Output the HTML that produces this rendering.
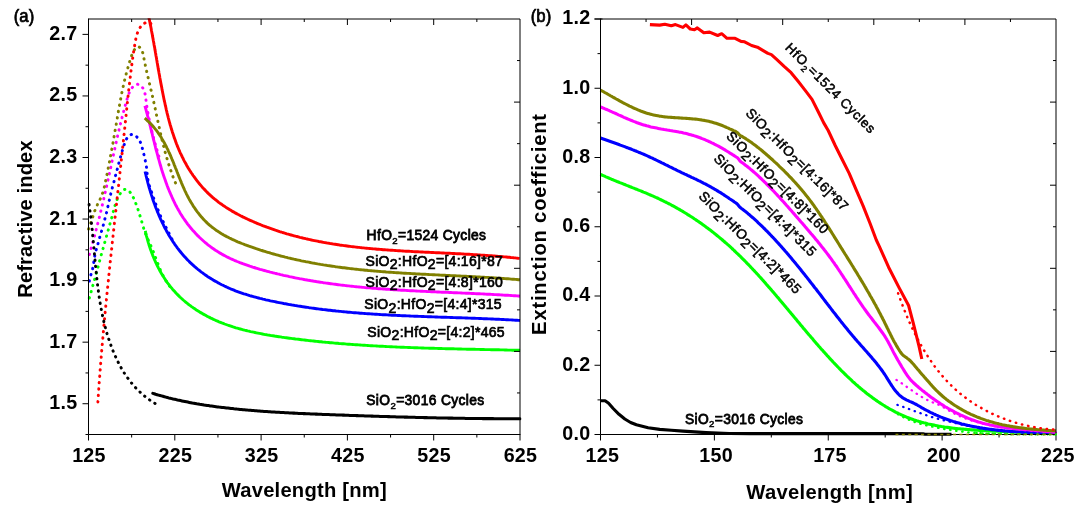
<!DOCTYPE html>
<html lang="en"><head><meta charset="utf-8"><title>Refractive index and extinction coefficient</title>
<style>
html,body{margin:0;padding:0;background:#fff;}
body{width:1084px;height:517px;overflow:hidden;}
svg{display:block;font-family:"Liberation Sans",Arial,Helvetica,sans-serif;}
.tk{font-size:19.7px;font-weight:bold;fill:#000;letter-spacing:0.3px;}
.ttl{font-size:20.2px;font-weight:bold;fill:#000;letter-spacing:0.22px;}
.pl{font-size:18.0px;font-weight:normal;fill:#000;stroke:#000;stroke-width:0.75px;stroke-linejoin:round;letter-spacing:0px;}
.lb{font-size:13.3px;font-weight:normal;fill:#000;stroke:#000;stroke-width:0.4px;letter-spacing:0.8px;}
.c{fill:none;stroke-linejoin:round;stroke-linecap:butt;}
.d{fill:none;stroke-linecap:round;stroke-linejoin:round;}
</style></head><body>
<svg width="1084" height="517" viewBox="0 0 1084 517">
<rect width="1084" height="517" fill="#fff"/>
<defs><clipPath id="ca"><rect x="87.0" y="18.3" width="434.5" height="418.5"/></clipPath><clipPath id="cb"><rect x="599.0" y="18.3" width="458.5" height="418.5"/></clipPath></defs>
<g clip-path="url(#ca)">
<path class="d" d="M89.3 298.0L89.7 296.5L90.1 295.1L90.5 293.6L91.0 292.2L91.4 290.7L91.8 289.3L92.2 287.8L92.6 286.4L93.0 284.9L93.5 283.4L93.9 282.0L94.3 280.5L94.7 279.1L95.1 277.6L95.5 276.1L95.9 274.7L96.3 273.2L96.7 271.8L97.1 270.3L97.5 268.8L97.9 267.4L98.3 265.9L98.7 264.5L99.1 263.0L99.5 261.6L99.8 260.1L100.2 258.6L100.6 257.2L101.0 255.7L101.4 254.3L101.8 252.8L102.2 251.3L102.7 249.9L103.1 248.4L103.5 247.0L103.9 245.5L104.3 244.1L104.7 242.6L105.1 241.1L105.5 239.7L105.9 238.2L106.3 236.8L106.8 235.3L107.2 233.9L107.6 232.4L108.0 230.9L108.4 229.5L108.8 228.0L109.2 226.6L109.6 225.1L110.0 223.7L110.5 222.2L110.9 220.8L111.3 219.3L111.7 217.8L112.1 216.4L112.5 214.9L112.8 213.5L113.2 212.0L113.6 210.5L114.0 209.1L114.4 207.6L114.8 206.2L115.3 204.7L115.7 203.3L116.2 201.9L116.8 200.4L117.3 199.0L118.0 197.6L118.7 196.2L119.5 194.8L120.3 193.5L121.2 192.1L122.2 190.9L123.3 190.0L124.5 189.4L125.7 189.4L127.0 189.7L128.2 190.5L129.4 191.5L130.5 192.7L131.5 194.1L132.3 195.5L133.0 196.9L133.7 198.3L134.3 199.7L134.9 201.1L135.4 202.5L136.0 203.9L136.5 205.3L137.0 206.7L137.5 208.1L138.0 209.5L138.5 211.0L138.9 212.4L139.4 213.8L139.8 215.3L140.3 216.8L140.7 218.2L141.2 219.7L141.6 221.1L142.0 222.6L142.4 224.1L142.8 225.5L143.3 227.0L143.7 228.4L144.1 229.9L144.6 231.3L145.1 232.7L145.7 234.1L146.2 235.5L146.8 236.9L147.4 238.3L148.1 239.6L148.7 241.0L149.4 242.4L150.0 243.7L150.6 245.1L151.2 246.5L151.8 247.9L152.4 249.3L152.9 250.7L153.5 252.1L154.0 253.6L154.6 255.0L155.1 256.4L155.6 257.8L156.2 259.3L156.7 260.7L157.2 262.1L157.8 263.5L158.3 264.9L158.9 266.3L159.4 267.7L160.0 269.1L160.6 270.5L161.2 271.9L161.9 273.3L162.5 274.6L163.2 276.0L163.9 277.3L164.6 278.6L165.4 279.9L166.2 281.2L167.0 282.5L167.8 283.7L168.7 285.0L169.6 286.2L170.6 287.4L171.6 288.5L172.6 289.7L173.7 290.8" stroke="#00ff00" stroke-width="2.95" stroke-dasharray="0.4 6.0" stroke-dashoffset="0"/>
<path class="c" d="M145.3 230.9L145.6 232.3L146.0 233.8L146.3 235.3L146.7 236.8L147.1 238.2L147.5 239.7L147.9 241.2L148.3 242.6L148.8 244.1L149.2 245.6L149.7 247.0L150.2 248.5L150.7 249.9L151.2 251.3L151.7 252.8L152.3 254.2L152.8 255.6L153.4 257.0L154.0 258.5L154.6 259.9L155.2 261.2L155.8 262.6L156.5 264.0L157.1 265.4L157.8 266.7L158.5 268.1L159.2 269.4L159.9 270.8L160.6 272.1L161.4 273.4L162.2 274.7L163.0 276.0L163.8 277.3L164.6 278.5L165.4 279.8L166.3 281.0L167.1 282.3L168.0 283.5L168.9 284.7L169.8 285.9L170.8 287.1L171.7 288.2L172.7 289.4L173.7 290.5L174.7 291.6L175.7 292.7L176.7 293.8L177.8 294.9L178.8 295.9L179.9 297.0L181.0 298.0L182.1 299.0L183.2 300.0L184.4 301.0L185.5 302.0L186.7 302.9L187.9 303.8L189.1 304.8L190.3 305.7L191.5 306.6L192.7 307.4L193.9 308.3L195.2 309.1L196.4 310.0L197.7 310.8L199.0 311.6L200.3 312.4L201.6 313.1L202.9 313.9L204.2 314.6L205.5 315.3L206.8 316.1L208.1 316.7L209.5 317.4L210.8 318.1L212.2 318.7L213.5 319.4L214.9 320.0L216.2 320.6L217.6 321.2L219.0 321.8L220.4 322.3L221.8 322.9L223.2 323.4L224.6 324.0L226.0 324.5L227.4 325.0L228.8 325.5L230.2 325.9L231.6 326.4L233.1 326.9L234.5 327.3L235.9 327.8L237.4 328.2L238.8 328.6L240.3 329.0L241.7 329.4L243.2 329.8L244.6 330.2L246.1 330.5L247.6 330.9L249.0 331.2L250.5 331.6L252.0 331.9L253.5 332.2L255.0 332.5L256.4 332.8L257.9 333.1L259.4 333.4L260.9 333.7L262.4 334.0L263.9 334.3L265.4 334.6L266.9 334.8L268.4 335.1L269.9 335.3L271.4 335.6L272.9 335.8L274.4 336.0L275.9 336.3L277.4 336.5L278.9 336.7L280.4 336.9L281.9 337.2L283.4 337.4L284.9 337.6L286.4 337.8L287.9 338.0L289.5 338.2L291.0 338.4L292.5 338.6L294.0 338.8L295.5 339.0L297.0 339.1L298.5 339.3L300.0 339.5L301.5 339.7L303.0 339.9L304.5 340.0L306.0 340.2L307.5 340.4L309.0 340.6L310.5 340.7L312.0 340.9L313.5 341.0L315.1 341.2L316.6 341.4L318.1 341.5L319.6 341.7L321.1 341.8L322.6 342.0L324.1 342.1L325.6 342.3L327.1 342.4L328.6 342.5L330.1 342.7L331.6 342.8L333.1 342.9L334.6 343.1L336.1 343.2L337.6 343.3L339.1 343.5L340.6 343.6L342.1 343.7L343.6 343.8L345.1 343.9L346.6 344.1L348.1 344.2L349.6 344.3L351.1 344.4L352.6 344.5L354.1 344.6L355.6 344.7L357.1 344.8L358.7 344.9L360.2 345.0L361.7 345.1L363.2 345.2L364.7 345.3L366.2 345.4L367.7 345.5L369.2 345.6L370.7 345.7L372.2 345.8L373.7 345.9L375.2 345.9L376.7 346.0L378.2 346.1L379.7 346.2L381.2 346.3L382.7 346.3L384.2 346.4L385.7 346.5L387.2 346.6L388.7 346.6L390.2 346.7L391.7 346.8L393.2 346.9L394.7 346.9L396.2 347.0L397.7 347.1L399.2 347.1L400.7 347.2L402.2 347.2L403.7 347.3L405.2 347.4L406.7 347.4L408.3 347.5L409.8 347.5L411.3 347.6L412.8 347.6L414.3 347.7L415.8 347.8L417.3 347.8L418.8 347.9L420.3 347.9L421.8 348.0L423.3 348.0L424.8 348.1L426.3 348.1L427.8 348.1L429.3 348.2L430.8 348.2L432.3 348.3L433.8 348.3L435.3 348.4L436.9 348.4L438.4 348.5L439.9 348.5L441.4 348.5L442.9 348.6L444.4 348.6L445.9 348.7L447.4 348.7L448.9 348.7L450.4 348.8L451.9 348.8L453.4 348.8L455.0 348.9L456.5 348.9L458.0 349.0L459.5 349.0L461.0 349.0L462.5 349.1L464.0 349.1L465.5 349.1L467.0 349.2L468.5 349.2L470.1 349.2L471.6 349.3L473.1 349.3L474.6 349.3L476.1 349.4L477.6 349.4L479.1 349.4L480.7 349.5L482.2 349.5L483.7 349.5L485.2 349.6L486.7 349.6L488.2 349.6L489.7 349.6L491.3 349.7L492.8 349.7L494.3 349.7L495.8 349.8L497.3 349.8L498.8 349.8L500.4 349.9L501.9 349.9L503.4 349.9L504.9 350.0L506.4 350.0L508.0 350.1L509.5 350.1L511.0 350.1L512.5 350.2L514.0 350.2L515.6 350.2L517.1 350.3L518.6 350.3L520.1 350.3" stroke="#00ff00" stroke-width="2.9"/>
<path class="d" d="M89.3 281.1L89.6 279.6L89.9 278.1L90.3 276.7L90.8 275.2L91.2 273.8L91.6 272.3L92.1 270.9L92.5 269.4L92.8 268.0L93.1 266.5L93.3 265.0L93.6 263.5L93.8 262.0L94.0 260.5L94.2 259.0L94.4 257.6L94.7 256.1L95.0 254.6L95.4 253.1L95.7 251.7L96.1 250.2L96.5 248.8L96.9 247.3L97.3 245.8L97.8 244.4L98.2 242.9L98.6 241.5L99.0 240.0L99.4 238.6L99.8 237.1L100.3 235.7L100.7 234.2L101.1 232.8L101.5 231.3L101.9 229.9L102.3 228.4L102.7 227.0L103.2 225.5L103.6 224.1L104.0 222.6L104.4 221.2L104.7 219.7L105.1 218.2L105.5 216.8L105.9 215.3L106.2 213.8L106.6 212.4L106.9 210.9L107.3 209.4L107.6 207.9L107.9 206.5L108.3 205.0L108.6 203.5L108.9 202.0L109.2 200.6L109.6 199.1L109.9 197.6L110.2 196.1L110.6 194.7L110.9 193.2L111.3 191.8L111.6 190.3L112.0 188.9L112.4 187.4L112.8 186.0L113.2 184.5L113.6 183.1L114.0 181.6L114.4 180.1L114.7 178.7L115.1 177.2L115.5 175.7L115.9 174.3L116.3 172.8L116.7 171.3L117.1 169.8L117.5 168.4L117.8 166.9L118.2 165.4L118.6 164.0L119.0 162.5L119.4 161.1L119.8 159.6L120.2 158.2L120.6 156.7L121.0 155.3L121.4 153.9L121.8 152.5L122.2 151.1L122.6 149.6L123.0 148.2L123.5 146.7L124.0 145.3L124.5 143.8L125.0 142.3L125.6 140.7L126.3 139.3L127.1 137.9L128.0 136.7L129.1 135.7L130.3 134.9L131.5 134.5L132.8 134.5L134.1 134.9L135.4 135.6L136.5 136.6L137.6 137.7L138.6 138.9L139.4 140.2L140.1 141.6L140.7 143.0L141.2 144.5L141.7 146.0L142.1 147.4L142.5 148.9L142.9 150.4L143.2 151.9L143.6 153.4L144.0 154.9L144.3 156.3L144.7 157.8L145.0 159.2L145.3 160.7L145.6 162.1L145.9 163.6L146.1 165.1L146.4 166.5L146.6 168.0L146.7 169.5L146.9 171.0L147.0 172.6L147.2 174.1L147.4 175.6L147.5 177.1L147.8 178.6L148.0 180.1L148.3 181.6L148.7 183.0L149.1 184.5L149.5 185.9L150.0 187.4L150.4 188.8L150.9 190.2L151.4 191.6L151.9 193.1L152.4 194.5L152.9 195.9L153.4 197.4L153.9 198.8L154.4 200.2L154.9 201.6L155.4 203.1L155.9 204.5L156.4 205.9L157.0 207.3L157.5 208.7L158.1 210.1L158.6 211.5L159.2 212.9L159.8 214.3L160.4 215.7L161.0 217.1L161.6 218.5L162.3 219.8L162.9 221.2L163.6 222.5L164.2 223.9L164.9 225.2L165.6 226.6L166.3 227.9L167.0 229.3L167.7 230.6L168.3 232.0L169.0 233.3L169.7 234.7L170.4 236.0L171.1 237.4L171.7 238.7L172.4 240.1L173.1 241.4L173.7 242.8" stroke="#0000ff" stroke-width="2.95" stroke-dasharray="0.4 6.0" stroke-dashoffset="0"/>
<path class="c" d="M145.1 171.5L145.4 173.0L145.8 174.4L146.1 175.8L146.5 177.3L146.8 178.7L147.2 180.2L147.6 181.6L147.9 183.0L148.3 184.5L148.7 185.9L149.1 187.4L149.6 188.8L150.0 190.3L150.4 191.7L150.9 193.2L151.3 194.6L151.8 196.1L152.3 197.5L152.7 199.0L153.2 200.4L153.7 201.9L154.2 203.3L154.8 204.7L155.3 206.2L155.8 207.6L156.4 209.0L157.0 210.5L157.5 211.9L158.1 213.3L158.7 214.7L159.3 216.1L159.9 217.5L160.5 218.9L161.2 220.3L161.8 221.7L162.5 223.1L163.2 224.4L163.8 225.8L164.5 227.2L165.2 228.5L166.0 229.9L166.7 231.2L167.4 232.5L168.2 233.9L168.9 235.2L169.7 236.5L170.5 237.8L171.3 239.0L172.1 240.3L172.9 241.6L173.8 242.8L174.6 244.1L175.5 245.3L176.4 246.5L177.3 247.8L178.2 249.0L179.1 250.1L180.0 251.3L181.0 252.5L181.9 253.6L182.9 254.8L183.9 255.9L184.9 257.0L185.9 258.1L186.9 259.2L187.9 260.3L189.0 261.3L190.0 262.4L191.1 263.4L192.2 264.4L193.3 265.4L194.4 266.4L195.6 267.4L196.7 268.3L197.8 269.3L199.0 270.2L200.2 271.2L201.4 272.1L202.6 272.9L203.8 273.8L205.0 274.7L206.2 275.5L207.4 276.4L208.7 277.2L210.0 278.0L211.2 278.8L212.5 279.6L213.8 280.4L215.1 281.1L216.4 281.8L217.7 282.6L219.0 283.3L220.3 284.0L221.7 284.7L223.0 285.3L224.4 286.0L225.7 286.6L227.1 287.3L228.4 287.9L229.8 288.5L231.2 289.1L232.6 289.6L234.0 290.2L235.4 290.8L236.8 291.3L238.2 291.8L239.6 292.3L241.1 292.8L242.5 293.3L243.9 293.8L245.4 294.2L246.8 294.7L248.2 295.1L249.7 295.6L251.1 296.0L252.6 296.4L254.1 296.8L255.5 297.2L257.0 297.6L258.5 298.0L259.9 298.4L261.4 298.7L262.9 299.1L264.4 299.4L265.8 299.8L267.3 300.1L268.8 300.4L270.3 300.8L271.8 301.1L273.3 301.4L274.8 301.7L276.2 302.0L277.7 302.3L279.2 302.6L280.7 302.9L282.2 303.2L283.7 303.5L285.2 303.7L286.7 304.0L288.2 304.3L289.7 304.6L291.2 304.8L292.7 305.1L294.1 305.3L295.6 305.6L297.1 305.8L298.6 306.1L300.1 306.3L301.6 306.5L303.1 306.8L304.6 307.0L306.1 307.2L307.6 307.4L309.1 307.7L310.6 307.9L312.1 308.1L313.6 308.3L315.1 308.5L316.6 308.7L318.1 308.9L319.6 309.1L321.1 309.3L322.6 309.5L324.1 309.6L325.6 309.8L327.1 310.0L328.6 310.2L330.1 310.3L331.6 310.5L333.1 310.7L334.6 310.8L336.1 311.0L337.6 311.1L339.1 311.3L340.6 311.4L342.1 311.6L343.6 311.7L345.1 311.9L346.6 312.0L348.1 312.2L349.6 312.3L351.1 312.4L352.6 312.6L354.1 312.7L355.6 312.8L357.1 312.9L358.6 313.0L360.1 313.2L361.6 313.3L363.1 313.4L364.6 313.5L366.1 313.6L367.6 313.7L369.1 313.8L370.6 313.9L372.1 314.0L373.7 314.1L375.2 314.2L376.7 314.3L378.2 314.4L379.7 314.5L381.2 314.6L382.7 314.7L384.2 314.8L385.7 314.8L387.2 314.9L388.7 315.0L390.2 315.1L391.7 315.2L393.2 315.2L394.7 315.3L396.3 315.4L397.8 315.5L399.3 315.5L400.8 315.6L402.3 315.7L403.8 315.7L405.3 315.8L406.8 315.9L408.3 315.9L409.8 316.0L411.3 316.1L412.8 316.1L414.4 316.2L415.9 316.2L417.4 316.3L418.9 316.4L420.4 316.4L421.9 316.5L423.4 316.5L424.9 316.6L426.4 316.6L427.9 316.7L429.4 316.8L431.0 316.8L432.5 316.9L434.0 316.9L435.5 317.0L437.0 317.0L438.5 317.1L440.0 317.1L441.5 317.2L443.0 317.2L444.5 317.3L446.1 317.3L447.6 317.4L449.1 317.4L450.6 317.5L452.1 317.5L453.6 317.6L455.1 317.6L456.6 317.7L458.1 317.7L459.6 317.8L461.1 317.8L462.7 317.9L464.2 317.9L465.7 318.0L467.2 318.0L468.7 318.1L470.2 318.1L471.7 318.2L473.2 318.3L474.7 318.3L476.2 318.4L477.8 318.4L479.3 318.5L480.8 318.5L482.3 318.6L483.8 318.7L485.3 318.7L486.8 318.8L488.3 318.9L489.8 318.9L491.3 319.0L492.8 319.0L494.3 319.1L495.9 319.2L497.4 319.3L498.9 319.3L500.4 319.4L501.9 319.5L503.4 319.5L504.9 319.6L506.4 319.7L507.9 319.8L509.4 319.9L510.9 319.9L512.4 320.0L514.0 320.1L515.5 320.2L517.0 320.3L518.5 320.4L520.0 320.5" stroke="#0000ff" stroke-width="2.9"/>
<path class="d" d="M89.3 254.6L89.7 253.1L90.1 251.7L90.5 250.2L91.0 248.8L91.4 247.4L91.8 245.9L92.2 244.5L92.6 243.0L93.0 241.6L93.4 240.1L93.8 238.6L94.2 237.2L94.6 235.7L95.0 234.3L95.3 232.8L95.7 231.4L96.1 229.9L96.5 228.4L96.9 227.0L97.2 225.5L97.6 224.0L98.0 222.6L98.4 221.1L98.7 219.7L99.1 218.2L99.5 216.7L99.8 215.3L100.2 213.8L100.5 212.3L100.9 210.8L101.3 209.4L101.6 207.9L102.0 206.4L102.3 205.0L102.7 203.5L103.0 202.0L103.3 200.5L103.7 199.1L104.0 197.6L104.4 196.1L104.7 194.7L105.0 193.2L105.4 191.7L105.7 190.2L106.0 188.8L106.4 187.3L106.7 185.8L107.0 184.3L107.4 182.9L107.7 181.4L108.0 179.9L108.3 178.5L108.7 177.0L109.0 175.5L109.3 174.0L109.6 172.6L109.9 171.1L110.3 169.6L110.6 168.2L110.9 166.7L111.2 165.2L111.5 163.7L111.8 162.3L112.1 160.8L112.5 159.3L112.8 157.9L113.1 156.4L113.4 154.9L113.7 153.5L114.1 152.0L114.4 150.5L114.7 149.1L115.0 147.6L115.3 146.1L115.7 144.6L116.0 143.2L116.3 141.7L116.6 140.2L117.0 138.8L117.3 137.3L117.6 135.8L118.0 134.4L118.3 132.9L118.7 131.4L119.0 130.0L119.3 128.5L119.7 127.0L120.0 125.6L120.4 124.1L120.8 122.6L121.1 121.1L121.5 119.7L121.9 118.2L122.2 116.7L122.6 115.3L123.0 113.8L123.4 112.3L123.8 110.9L124.2 109.4L124.6 107.9L125.0 106.4L125.4 105.0L125.8 103.5L126.2 102.0L126.6 100.6L127.1 99.1L127.5 97.6L128.0 96.2L128.4 94.7L129.0 93.3L129.6 91.9L130.2 90.6L131.0 89.3L131.8 88.1L132.8 87.0L133.9 86.0L135.1 85.1L136.4 84.5L137.7 84.3L139.0 84.6L140.3 85.2L141.4 86.2L142.4 87.4L143.3 88.8L144.0 90.2L144.5 91.8L144.9 93.3L145.3 94.9L145.5 96.4L145.7 97.9L145.9 99.4L146.1 100.9L146.3 102.4L146.5 103.8L146.7 105.3L146.9 106.8L147.1 108.3L147.4 109.8L147.6 111.2L147.9 112.7L148.1 114.2L148.4 115.7L148.7 117.2L149.0 118.6L149.3 120.1L149.6 121.6L150.0 123.1L150.3 124.5L150.6 126.0L151.0 127.5L151.3 129.0L151.7 130.4L152.0 131.9L152.4 133.4L152.8 134.8L153.2 136.3L153.5 137.8L153.9 139.2L154.3 140.7L154.7 142.1L155.1 143.6L155.5 145.1L156.0 146.5L156.4 148.0L156.8 149.4L157.2 150.9L157.6 152.3L158.1 153.7L158.5 155.2L158.9 156.6L159.4 158.1L159.8 159.5" stroke="#ff00ff" stroke-width="2.95" stroke-dasharray="0.4 6.0" stroke-dashoffset="0"/>
<path class="c" d="M144.9 105.9L145.3 107.3L145.7 108.7L146.1 110.2L146.5 111.6L146.9 113.0L147.3 114.4L147.6 115.9L148.0 117.3L148.4 118.8L148.8 120.2L149.1 121.6L149.5 123.1L149.8 124.5L150.2 126.0L150.6 127.4L150.9 128.9L151.3 130.3L151.6 131.8L152.0 133.2L152.4 134.7L152.7 136.1L153.1 137.6L153.4 139.1L153.8 140.5L154.2 142.0L154.5 143.4L154.9 144.9L155.3 146.4L155.6 147.8L156.0 149.3L156.4 150.8L156.8 152.2L157.2 153.7L157.6 155.1L158.0 156.6L158.3 158.1L158.8 159.5L159.2 161.0L159.6 162.4L160.0 163.9L160.4 165.3L160.9 166.8L161.3 168.3L161.7 169.7L162.2 171.2L162.6 172.6L163.1 174.0L163.6 175.5L164.1 176.9L164.6 178.4L165.1 179.8L165.6 181.3L166.1 182.7L166.6 184.1L167.1 185.5L167.7 187.0L168.2 188.4L168.8 189.8L169.4 191.2L170.0 192.6L170.6 194.0L171.2 195.4L171.8 196.8L172.4 198.2L173.0 199.5L173.7 200.9L174.4 202.3L175.0 203.6L175.7 205.0L176.4 206.3L177.1 207.6L177.9 209.0L178.6 210.3L179.4 211.6L180.1 212.9L180.9 214.2L181.7 215.4L182.5 216.7L183.3 218.0L184.2 219.2L185.0 220.4L185.9 221.7L186.8 222.9L187.6 224.1L188.6 225.3L189.5 226.4L190.4 227.6L191.4 228.7L192.4 229.9L193.4 231.0L194.4 232.1L195.4 233.2L196.4 234.3L197.4 235.4L198.5 236.4L199.6 237.5L200.7 238.5L201.8 239.5L202.9 240.5L204.0 241.5L205.1 242.5L206.3 243.4L207.4 244.4L208.6 245.3L209.8 246.2L211.0 247.1L212.2 248.0L213.4 248.8L214.7 249.7L215.9 250.5L217.2 251.3L218.4 252.1L219.7 252.9L221.0 253.6L222.3 254.4L223.6 255.1L224.9 255.8L226.2 256.5L227.5 257.2L228.9 257.8L230.2 258.5L231.6 259.1L233.0 259.7L234.3 260.3L235.7 260.9L237.1 261.5L238.5 262.0L239.9 262.6L241.3 263.1L242.7 263.7L244.1 264.2L245.5 264.7L247.0 265.2L248.4 265.7L249.8 266.2L251.3 266.6L252.7 267.1L254.1 267.5L255.6 268.0L257.0 268.4L258.5 268.8L260.0 269.3L261.4 269.7L262.9 270.1L264.3 270.5L265.8 270.9L267.2 271.3L268.7 271.7L270.2 272.1L271.6 272.4L273.1 272.8L274.6 273.2L276.0 273.5L277.5 273.9L279.0 274.2L280.4 274.6L281.9 274.9L283.4 275.3L284.8 275.6L286.3 275.9L287.8 276.2L289.3 276.6L290.7 276.9L292.2 277.2L293.7 277.5L295.2 277.8L296.6 278.1L298.1 278.4L299.6 278.7L301.1 278.9L302.5 279.2L304.0 279.5L305.5 279.8L307.0 280.0L308.5 280.3L310.0 280.5L311.4 280.8L312.9 281.0L314.4 281.3L315.9 281.5L317.4 281.8L318.9 282.0L320.3 282.2L321.8 282.4L323.3 282.7L324.8 282.9L326.3 283.1L327.8 283.3L329.3 283.5L330.8 283.7L332.2 283.9L333.7 284.1L335.2 284.3L336.7 284.5L338.2 284.7L339.7 284.9L341.2 285.1L342.7 285.2L344.2 285.4L345.7 285.6L347.2 285.8L348.7 285.9L350.2 286.1L351.7 286.2L353.2 286.4L354.7 286.6L356.2 286.7L357.6 286.9L359.1 287.0L360.6 287.1L362.1 287.3L363.6 287.4L365.1 287.6L366.6 287.7L368.1 287.8L369.6 287.9L371.1 288.1L372.6 288.2L374.1 288.3L375.6 288.4L377.1 288.6L378.6 288.7L380.1 288.8L381.7 288.9L383.2 289.0L384.7 289.1L386.2 289.2L387.7 289.3L389.2 289.4L390.7 289.5L392.2 289.6L393.7 289.7L395.2 289.8L396.7 289.9L398.2 290.0L399.7 290.1L401.2 290.2L402.7 290.3L404.2 290.3L405.7 290.4L407.2 290.5L408.7 290.6L410.2 290.7L411.7 290.8L413.2 290.8L414.7 290.9L416.3 291.0L417.8 291.1L419.3 291.1L420.8 291.2L422.3 291.3L423.8 291.4L425.3 291.4L426.8 291.5L428.3 291.6L429.8 291.6L431.3 291.7L432.8 291.8L434.3 291.8L435.8 291.9L437.3 292.0L438.8 292.0L440.4 292.1L441.9 292.2L443.4 292.2L444.9 292.3L446.4 292.4L447.9 292.4L449.4 292.5L450.9 292.5L452.4 292.6L453.9 292.7L455.4 292.7L456.9 292.8L458.4 292.9L459.9 292.9L461.4 293.0L462.9 293.1L464.4 293.1L465.9 293.2L467.4 293.3L468.9 293.3L470.4 293.4L471.9 293.5L473.5 293.5L475.0 293.6L476.5 293.7L478.0 293.7L479.5 293.8L481.0 293.9L482.5 293.9L484.0 294.0L485.5 294.1L487.0 294.2L488.5 294.2L490.0 294.3L491.5 294.4L493.0 294.5L494.5 294.6L496.0 294.6L497.5 294.7L499.0 294.8L500.5 294.9L502.0 295.0L503.5 295.1L505.0 295.2L506.4 295.3L507.9 295.3L509.4 295.4L510.9 295.5L512.4 295.6L513.9 295.7L515.4 295.8L516.9 295.9L518.4 296.0L519.9 296.2" stroke="#ff00ff" stroke-width="2.9"/>
<path class="d" d="M88.6 229.0L89.1 227.6L89.7 226.2L90.2 224.8L90.7 223.3L91.1 221.9L91.6 220.5L92.1 219.0L92.5 217.6L93.0 216.2L93.4 214.7L93.9 213.3L94.4 211.9L94.9 210.5L95.5 209.1L96.0 207.7L96.6 206.3L97.3 204.9L97.9 203.5L98.6 202.2L99.3 200.8L100.0 199.5L100.6 198.1L101.2 196.7L101.8 195.3L102.3 193.9L102.8 192.5L103.3 191.1L103.7 189.6L104.0 188.2L104.4 186.7L104.7 185.2L105.0 183.8L105.3 182.3L105.6 180.8L105.9 179.4L106.3 177.9L106.6 176.4L106.9 174.9L107.2 173.4L107.5 172.0L107.8 170.5L108.1 169.0L108.3 167.5L108.6 166.1L108.9 164.6L109.2 163.1L109.5 161.6L109.8 160.1L110.1 158.7L110.4 157.2L110.6 155.7L110.9 154.2L111.2 152.7L111.5 151.2L111.7 149.8L112.0 148.3L112.3 146.8L112.5 145.3L112.8 143.8L113.1 142.3L113.3 140.9L113.6 139.4L113.9 137.9L114.1 136.4L114.4 134.9L114.6 133.4L114.9 132.0L115.1 130.5L115.4 129.0L115.6 127.5L115.9 126.0L116.2 124.5L116.4 123.0L116.7 121.6L116.9 120.1L117.2 118.6L117.4 117.1L117.7 115.6L117.9 114.1L118.2 112.6L118.4 111.2L118.7 109.7L119.0 108.2L119.2 106.7L119.5 105.2L119.8 103.8L120.0 102.3L120.3 100.8L120.6 99.3L120.9 97.8L121.2 96.4L121.4 94.9L121.7 93.4L122.0 91.9L122.3 90.5L122.7 89.0L123.0 87.5L123.3 86.0L123.6 84.6L124.0 83.1L124.3 81.6L124.6 80.2L125.0 78.7L125.4 77.2L125.7 75.8L126.1 74.3L126.5 72.8L126.9 71.4L127.3 69.9L127.7 68.5L128.1 67.0L128.5 65.6L128.9 64.1L129.4 62.7L129.8 61.2L130.3 59.8L130.8 58.3L131.2 56.9L131.7 55.4L132.3 54.0L132.9 52.6L133.6 51.1L134.4 49.7L135.4 48.4L136.5 47.4L137.6 46.8L138.7 46.8L139.7 47.4L140.7 48.4L141.5 49.7L142.2 51.1L142.7 52.6L143.1 54.1L143.4 55.6L143.7 57.1L144.0 58.6L144.2 60.1L144.5 61.6L144.9 63.1L145.2 64.6L145.5 66.1L145.8 67.6L146.1 69.1L146.5 70.5L146.8 72.0L147.1 73.5L147.5 74.9L147.8 76.4L148.2 77.9L148.5 79.3L148.8 80.8L149.2 82.3L149.5 83.7L149.9 85.2L150.2 86.6L150.6 88.1L150.9 89.6L151.3 91.0L151.6 92.5L151.9 93.9L152.3 95.4L152.6 96.9L152.9 98.3L153.2 99.8L153.6 101.3L153.9 102.7L154.2 104.2L154.5 105.7L154.8 107.2L155.2 108.6L155.5 110.1L155.8 111.6L156.1 113.1L156.4 114.5L156.7 116.0L157.0 117.5L157.4 119.0L157.7 120.4L158.0 121.9L158.3 123.4L158.6 124.9L159.0 126.3L159.3 127.8L159.6 129.3L159.9 130.8L160.3 132.2L160.6 133.7L160.9 135.2L161.3 136.6L161.6 138.1L162.0 139.6L162.3 141.0L162.7 142.5L163.0 144.0L163.4 145.4L163.8 146.9L164.2 148.4L164.5 149.8L164.9 151.3L165.3 152.7L165.7 154.2L166.1 155.6L166.5 157.1L167.0 158.5L167.4 160.0L167.8 161.4L168.3 162.9L168.7 164.3L169.2 165.7L169.6 167.2L170.1 168.6L170.6 170.0L171.1 171.4L171.6 172.9L172.1 174.3L172.6 175.7L173.1 177.1L173.7 178.5L174.2 179.9L174.8 181.3L175.4 182.7L176.0 184.1L176.5 185.5" stroke="#808000" stroke-width="2.95" stroke-dasharray="0.4 6.0" stroke-dashoffset="0"/>
<path class="c" d="M144.7 118.2L145.9 119.2L147.0 120.3L148.2 121.3L149.3 122.4L150.3 123.4L151.4 124.5L152.4 125.6L153.4 126.8L154.3 127.9L155.3 129.1L156.2 130.2L157.1 131.4L158.0 132.6L158.8 133.9L159.7 135.1L160.5 136.3L161.3 137.6L162.0 138.9L162.8 140.2L163.5 141.4L164.3 142.8L165.0 144.1L165.7 145.4L166.4 146.7L167.0 148.1L167.7 149.4L168.3 150.8L168.9 152.1L169.6 153.5L170.2 154.9L170.8 156.3L171.4 157.7L171.9 159.0L172.5 160.4L173.1 161.8L173.7 163.2L174.2 164.7L174.8 166.1L175.3 167.5L175.9 168.9L176.5 170.3L177.0 171.7L177.6 173.1L178.1 174.6L178.7 176.0L179.2 177.4L179.8 178.8L180.4 180.2L181.0 181.6L181.5 183.0L182.1 184.4L182.7 185.8L183.3 187.2L184.0 188.6L184.6 190.0L185.2 191.3L185.9 192.7L186.5 194.1L187.2 195.4L187.9 196.8L188.6 198.1L189.3 199.4L190.1 200.7L190.8 202.0L191.6 203.3L192.4 204.6L193.2 205.9L194.0 207.2L194.9 208.4L195.7 209.6L196.6 210.9L197.5 212.1L198.4 213.2L199.3 214.4L200.2 215.6L201.2 216.7L202.2 217.8L203.2 218.9L204.2 220.0L205.2 221.0L206.3 222.1L207.3 223.1L208.4 224.1L209.5 225.1L210.7 226.0L211.8 227.0L213.0 227.9L214.1 228.7L215.3 229.6L216.5 230.5L217.8 231.3L219.0 232.1L220.3 232.9L221.5 233.7L222.8 234.4L224.1 235.2L225.4 235.9L226.7 236.6L228.1 237.3L229.4 238.0L230.8 238.6L232.1 239.3L233.5 239.9L234.9 240.5L236.2 241.2L237.6 241.8L239.0 242.3L240.4 242.9L241.9 243.5L243.3 244.0L244.7 244.6L246.1 245.1L247.5 245.6L249.0 246.2L250.4 246.7L251.9 247.2L253.3 247.7L254.7 248.2L256.2 248.7L257.6 249.1L259.1 249.6L260.5 250.1L261.9 250.5L263.4 251.0L264.8 251.4L266.3 251.9L267.7 252.3L269.2 252.7L270.6 253.2L272.1 253.6L273.5 254.0L275.0 254.4L276.5 254.8L277.9 255.2L279.4 255.6L280.8 256.0L282.3 256.3L283.7 256.7L285.2 257.1L286.7 257.4L288.1 257.8L289.6 258.1L291.1 258.5L292.5 258.8L294.0 259.2L295.5 259.5L296.9 259.8L298.4 260.1L299.9 260.4L301.3 260.8L302.8 261.1L304.3 261.4L305.8 261.7L307.2 261.9L308.7 262.2L310.2 262.5L311.7 262.8L313.1 263.1L314.6 263.3L316.1 263.6L317.6 263.9L319.0 264.1L320.5 264.4L322.0 264.6L323.5 264.9L325.0 265.1L326.4 265.3L327.9 265.6L329.4 265.8L330.9 266.0L332.4 266.2L333.9 266.4L335.4 266.7L336.8 266.9L338.3 267.1L339.8 267.3L341.3 267.5L342.8 267.7L344.3 267.8L345.8 268.0L347.3 268.2L348.8 268.4L350.3 268.6L351.7 268.7L353.2 268.9L354.7 269.1L356.2 269.2L357.7 269.4L359.2 269.6L360.7 269.7L362.2 269.9L363.7 270.0L365.2 270.2L366.7 270.3L368.2 270.5L369.7 270.6L371.2 270.7L372.7 270.9L374.2 271.0L375.7 271.1L377.2 271.2L378.7 271.4L380.2 271.5L381.7 271.6L383.2 271.7L384.7 271.8L386.2 272.0L387.7 272.1L389.2 272.2L390.7 272.3L392.2 272.4L393.7 272.5L395.2 272.6L396.7 272.7L398.2 272.8L399.7 272.9L401.2 273.0L402.7 273.1L404.2 273.2L405.7 273.3L407.2 273.4L408.7 273.4L410.3 273.5L411.8 273.6L413.3 273.7L414.8 273.8L416.3 273.9L417.8 274.0L419.3 274.0L420.8 274.1L422.3 274.2L423.8 274.3L425.3 274.3L426.8 274.4L428.3 274.5L429.8 274.6L431.3 274.6L432.8 274.7L434.3 274.8L435.9 274.9L437.4 274.9L438.9 275.0L440.4 275.1L441.9 275.2L443.4 275.2L444.9 275.3L446.4 275.4L447.9 275.4L449.4 275.5L450.9 275.6L452.4 275.7L453.9 275.7L455.4 275.8L456.9 275.9L458.4 275.9L459.9 276.0L461.4 276.1L463.0 276.2L464.5 276.2L466.0 276.3L467.5 276.4L469.0 276.5L470.5 276.5L472.0 276.6L473.5 276.7L475.0 276.8L476.5 276.9L478.0 276.9L479.5 277.0L481.0 277.1L482.5 277.2L484.0 277.3L485.5 277.4L487.0 277.4L488.5 277.5L490.0 277.6L491.5 277.7L493.0 277.8L494.5 277.9L496.0 278.0L497.5 278.1L499.0 278.2L500.5 278.3L502.0 278.4L503.5 278.5L505.0 278.6L506.5 278.7L508.0 278.8L509.5 278.9L511.0 279.1L512.4 279.2L513.9 279.3L515.4 279.4L516.9 279.5L518.4 279.7L519.9 279.8" stroke="#808000" stroke-width="2.9"/>
<path class="d" d="M97.9 402.0L98.0 400.5L98.1 399.0L98.2 397.5L98.3 396.0L98.4 394.5L98.5 393.0L98.6 391.5L98.7 389.9L98.8 388.4L98.9 386.9L99.0 385.4L99.1 383.9L99.2 382.4L99.3 380.9L99.5 379.4L99.6 377.9L99.7 376.4L99.8 374.9L99.9 373.4L100.0 371.9L100.1 370.4L100.3 368.9L100.4 367.4L100.5 365.9L100.6 364.4L100.7 362.9L100.9 361.4L101.0 359.9L101.1 358.4L101.2 356.9L101.3 355.3L101.5 353.8L101.6 352.3L101.7 350.8L101.8 349.3L102.0 347.8L102.1 346.3L102.2 344.8L102.4 343.3L102.5 341.8L102.6 340.3L102.8 338.8L102.9 337.3L103.0 335.8L103.2 334.3L103.3 332.8L103.4 331.3L103.6 329.8L103.7 328.3L103.8 326.8L104.0 325.3L104.1 323.8L104.3 322.3L104.4 320.8L104.5 319.2L104.7 317.7L104.8 316.2L105.0 314.7L105.1 313.2L105.2 311.7L105.4 310.2L105.5 308.7L105.7 307.2L105.8 305.7L106.0 304.2L106.1 302.7L106.3 301.2L106.4 299.7L106.6 298.2L106.7 296.7L106.9 295.2L107.0 293.7L107.2 292.2L107.3 290.7L107.5 289.2L107.6 287.7L107.8 286.2L107.9 284.7L108.1 283.2L108.2 281.7L108.4 280.2L108.5 278.7L108.7 277.2L108.8 275.7L109.0 274.1L109.1 272.6L109.3 271.1L109.5 269.6L109.6 268.1L109.8 266.6L109.9 265.1L110.1 263.6L110.2 262.1L110.4 260.6L110.6 259.1L110.7 257.6L110.9 256.1L111.0 254.6L111.2 253.1L111.4 251.6L111.5 250.1L111.7 248.6L111.8 247.1L112.0 245.6L112.2 244.1L112.3 242.6L112.5 241.1L112.6 239.6L112.8 238.1L113.0 236.6L113.1 235.1L113.3 233.6L113.5 232.1L113.6 230.6L113.8 229.1L114.0 227.6L114.1 226.1L114.3 224.6L114.4 223.1L114.6 221.6L114.8 220.1L114.9 218.6L115.1 217.1L115.3 215.6L115.4 214.1L115.6 212.6L115.8 211.1L115.9 209.6L116.1 208.1L116.3 206.6L116.4 205.0L116.6 203.5L116.7 202.0L116.9 200.5L117.1 199.0L117.2 197.5L117.4 196.0L117.6 194.5L117.7 193.0L117.9 191.5L118.1 190.0L118.2 188.5L118.4 187.0L118.6 185.5L118.7 184.0L118.9 182.5L119.1 181.0L119.2 179.5L119.4 178.0L119.5 176.5L119.7 175.0L119.9 173.5L120.0 172.0L120.2 170.5L120.4 169.0L120.5 167.5L120.7 166.0L120.9 164.5L121.0 163.0L121.2 161.5L121.3 160.0L121.5 158.5L121.7 157.0L121.8 155.5L122.0 154.0L122.2 152.5L122.3 151.0L122.5 149.5L122.6 148.0L122.8 146.5L123.0 145.0L123.1 143.5L123.3 142.0L123.4 140.5L123.6 139.0L123.8 137.5L123.9 136.0L124.1 134.5L124.2 133.0L124.4 131.5L124.6 130.0L124.7 128.5L124.9 127.0L125.0 125.5L125.2 124.0L125.3 122.5L125.5 121.0L125.6 119.5L125.8 118.0L126.0 116.5L126.1 115.0L126.3 113.5L126.4 112.0L126.6 110.5L126.7 109.1L126.9 107.6L127.0 106.1L127.2 104.6L127.3 103.1L127.5 101.6L127.7 100.1L127.8 98.6L128.0 97.1L128.1 95.6L128.3 94.1L128.5 92.6L128.6 91.1L128.8 89.6L129.0 88.1L129.1 86.6L129.3 85.1L129.5 83.6L129.6 82.1L129.8 80.6L130.0 79.1L130.2 77.6L130.4 76.1L130.5 74.6L130.7 73.1L130.9 71.6L131.1 70.1L131.3 68.6L131.5 67.1L131.7 65.6L131.9 64.1L132.1 62.6L132.3 61.1L132.5 59.6L132.7 58.1L132.9 56.6L133.2 55.0L133.4 53.5L133.6 52.0L133.8 50.5L134.1 49.0L134.3 47.5L134.6 46.0L134.8 44.5L135.1 43.0L135.3 41.5L135.6 40.0L135.9 38.5L136.2 37.1L136.6 35.6L137.0 34.2L137.5 32.8L138.0 31.4L138.7 30.1L139.3 28.8L140.1 27.5L140.9 26.3L141.9 25.2L143.0 24.1L144.2 23.3L145.7 22.7L147.4 22.5L149.0 22.5L150.2 22.8L150.9 23.6L151.0 25.2L150.5 28.0" stroke="#ff0000" stroke-width="2.95" stroke-dasharray="0.4 6.0" stroke-dashoffset="0"/>
<path class="c" d="M148.1 14.1L148.5 15.6L148.8 17.0L149.1 18.5L149.4 20.0L149.7 21.4L150.0 22.9L150.3 24.4L150.6 25.8L150.9 27.3L151.2 28.8L151.4 30.2L151.7 31.7L152.0 33.2L152.3 34.6L152.5 36.1L152.8 37.6L153.1 39.1L153.3 40.5L153.6 42.0L153.9 43.5L154.1 45.0L154.4 46.4L154.7 47.9L154.9 49.4L155.2 50.9L155.4 52.3L155.7 53.8L155.9 55.3L156.2 56.8L156.5 58.2L156.7 59.7L157.0 61.2L157.2 62.7L157.5 64.2L157.7 65.6L158.0 67.1L158.2 68.6L158.5 70.1L158.8 71.6L159.0 73.0L159.3 74.5L159.6 76.0L159.8 77.5L160.1 79.0L160.4 80.5L160.6 81.9L160.9 83.4L161.2 84.9L161.5 86.4L161.8 87.9L162.0 89.4L162.3 90.8L162.6 92.3L162.9 93.8L163.2 95.3L163.5 96.8L163.8 98.3L164.1 99.8L164.4 101.2L164.8 102.7L165.1 104.2L165.4 105.7L165.8 107.2L166.1 108.7L166.4 110.1L166.8 111.6L167.1 113.1L167.5 114.6L167.9 116.1L168.2 117.5L168.6 119.0L169.0 120.5L169.4 122.0L169.8 123.4L170.2 124.9L170.7 126.3L171.1 127.8L171.5 129.3L172.0 130.7L172.4 132.2L172.9 133.6L173.4 135.0L173.9 136.5L174.3 137.9L174.9 139.3L175.4 140.8L175.9 142.2L176.4 143.6L177.0 145.0L177.5 146.4L178.1 147.8L178.7 149.2L179.3 150.6L179.9 152.0L180.5 153.3L181.2 154.7L181.8 156.0L182.5 157.4L183.2 158.7L183.8 160.1L184.5 161.4L185.3 162.7L186.0 164.0L186.7 165.4L187.5 166.7L188.2 167.9L189.0 169.2L189.8 170.5L190.6 171.7L191.4 173.0L192.3 174.2L193.1 175.5L194.0 176.7L194.9 177.9L195.8 179.1L196.7 180.3L197.6 181.5L198.5 182.6L199.4 183.8L200.4 184.9L201.4 186.1L202.3 187.2L203.3 188.3L204.4 189.4L205.4 190.4L206.4 191.5L207.5 192.6L208.5 193.6L209.6 194.6L210.7 195.6L211.8 196.6L212.9 197.6L214.1 198.6L215.2 199.5L216.4 200.4L217.6 201.4L218.7 202.3L219.9 203.2L221.2 204.0L222.4 204.9L223.6 205.8L224.9 206.6L226.1 207.4L227.4 208.2L228.7 209.0L229.9 209.8L231.2 210.6L232.5 211.4L233.9 212.1L235.2 212.9L236.5 213.6L237.8 214.3L239.2 215.0L240.5 215.7L241.9 216.4L243.2 217.1L244.6 217.7L246.0 218.4L247.3 219.0L248.7 219.7L250.1 220.3L251.5 220.9L252.9 221.5L254.3 222.1L255.6 222.7L257.0 223.3L258.4 223.9L259.8 224.4L261.2 225.0L262.6 225.6L264.0 226.1L265.5 226.6L266.9 227.2L268.3 227.7L269.7 228.2L271.1 228.7L272.5 229.2L273.9 229.7L275.4 230.2L276.8 230.6L278.2 231.1L279.6 231.6L281.1 232.0L282.5 232.5L283.9 232.9L285.4 233.3L286.8 233.8L288.3 234.2L289.7 234.6L291.1 235.0L292.6 235.4L294.0 235.8L295.5 236.2L296.9 236.5L298.4 236.9L299.8 237.3L301.3 237.6L302.7 238.0L304.2 238.3L305.7 238.7L307.1 239.0L308.6 239.3L310.0 239.6L311.5 240.0L313.0 240.3L314.4 240.6L315.9 240.9L317.4 241.2L318.9 241.5L320.3 241.7L321.8 242.0L323.3 242.3L324.8 242.6L326.2 242.8L327.7 243.1L329.2 243.3L330.7 243.6L332.2 243.8L333.7 244.1L335.1 244.3L336.6 244.5L338.1 244.7L339.6 245.0L341.1 245.2L342.6 245.4L344.1 245.6L345.6 245.8L347.1 246.0L348.6 246.2L350.1 246.4L351.5 246.6L353.0 246.7L354.5 246.9L356.0 247.1L357.5 247.3L359.0 247.4L360.5 247.6L362.0 247.8L363.6 247.9L365.1 248.1L366.6 248.2L368.1 248.4L369.6 248.5L371.1 248.6L372.6 248.8L374.1 248.9L375.6 249.0L377.1 249.2L378.6 249.3L380.1 249.4L381.6 249.5L383.1 249.7L384.7 249.8L386.2 249.9L387.7 250.0L389.2 250.1L390.7 250.2L392.2 250.3L393.7 250.4L395.2 250.5L396.7 250.6L398.3 250.7L399.8 250.8L401.3 250.9L402.8 251.0L404.3 251.1L405.8 251.2L407.3 251.2L408.9 251.3L410.4 251.4L411.9 251.5L413.4 251.6L414.9 251.7L416.4 251.7L417.9 251.8L419.5 251.9L421.0 252.0L422.5 252.0L424.0 252.1L425.5 252.2L427.0 252.3L428.5 252.3L430.0 252.4L431.6 252.5L433.1 252.5L434.6 252.6L436.1 252.7L437.6 252.8L439.1 252.8L440.6 252.9L442.1 253.0L443.6 253.0L445.2 253.1L446.7 253.2L448.2 253.3L449.7 253.3L451.2 253.4L452.7 253.5L454.2 253.5L455.7 253.6L457.2 253.7L458.7 253.8L460.2 253.8L461.7 253.9L463.2 254.0L464.7 254.1L466.2 254.2L467.7 254.2L469.2 254.3L470.7 254.4L472.2 254.5L473.7 254.6L475.2 254.7L476.7 254.8L478.2 254.9L479.7 255.0L481.2 255.1L482.7 255.2L484.2 255.3L485.7 255.4L487.1 255.5L488.6 255.6L490.1 255.7L491.6 255.8L493.1 255.9L494.6 256.0L496.0 256.1L497.5 256.3L499.0 256.4L500.5 256.5L502.0 256.6L503.4 256.8L504.9 256.9L506.4 257.0L507.9 257.2L509.3 257.3L510.8 257.5L512.3 257.6L513.7 257.8L515.2 257.9L516.6 258.1L518.1 258.3L519.6 258.4" stroke="#ff0000" stroke-width="2.9"/>
<path class="d" d="M88.6 202.0L88.9 203.4L89.1 204.8L89.3 206.3L89.5 207.7L89.7 209.1L89.9 210.6L90.1 212.0L90.3 213.5L90.5 214.9L90.7 216.4L90.8 217.9L91.0 219.3L91.2 220.8L91.4 222.3L91.5 223.7L91.7 225.2L91.8 226.7L92.0 228.2L92.2 229.7L92.3 231.2L92.5 232.6L92.6 234.1L92.7 235.6L92.9 237.1L93.0 238.6L93.2 240.1L93.3 241.7L93.4 243.2L93.6 244.7L93.7 246.2L93.9 247.7L94.0 249.2L94.1 250.7L94.3 252.2L94.4 253.8L94.5 255.3L94.7 256.8L94.8 258.3L95.0 259.9L95.1 261.4L95.2 262.9L95.4 264.4L95.5 266.0L95.7 267.5L95.8 269.0L96.0 270.5L96.2 272.1L96.3 273.6L96.5 275.1L96.6 276.7L96.8 278.2L97.0 279.7L97.2 281.2L97.3 282.8L97.5 284.3L97.7 285.8L97.9 287.3L98.1 288.9L98.3 290.4L98.5 291.9L98.7 293.4L98.9 294.9L99.1 296.5L99.4 298.0L99.6 299.5L99.8 301.0L100.1 302.5L100.3 304.0L100.6 305.5L100.9 307.0L101.1 308.5L101.4 310.0L101.7 311.5L102.0 313.0L102.3 314.5L102.6 316.0L102.9 317.5L103.3 319.0L103.6 320.4L103.9 321.9L104.3 323.4L104.7 324.8L105.0 326.3L105.4 327.8L105.8 329.2L106.2 330.7L106.6 332.1L107.0 333.6L107.5 335.0L107.9 336.5L108.3 337.9L108.8 339.3L109.3 340.7L109.8 342.2L110.3 343.6L110.8 345.0L111.3 346.4L111.8 347.8L112.4 349.2L112.9 350.6L113.5 352.0L114.1 353.3L114.6 354.7L115.3 356.1L115.9 357.4L116.5 358.8L117.2 360.1L117.8 361.5L118.5 362.8L119.2 364.1L119.9 365.5L120.6 366.8L121.3 368.1L122.1 369.4L122.8 370.6L123.6 371.9L124.4 373.2L125.2 374.4L126.1 375.7L126.9 376.9L127.8 378.1L128.7 379.3L129.6 380.5L130.5 381.7L131.4 382.9L132.4 384.0L133.3 385.2L134.3 386.3L135.3 387.4L136.4 388.5L137.4 389.6L138.5 390.6L139.6 391.7L140.7 392.7L141.8 393.8L143.0 394.8L144.1 395.7L145.3 396.7L146.5 397.7L147.8 398.6L149.0 399.5L150.3 400.4L151.6 401.3L152.9 402.2L154.3 403.0L155.6 403.8L157.0 404.6" stroke="#000000" stroke-width="2.95" stroke-dasharray="0.4 5.8" stroke-dashoffset="-2.6"/>
<path class="c" d="M152.8 393.4L154.2 393.8L155.6 394.3L157.1 394.7L158.5 395.1L160.0 395.5L161.5 395.9L162.9 396.3L164.4 396.7L165.8 397.1L167.3 397.5L168.7 397.9L170.2 398.2L171.7 398.6L173.1 399.0L174.6 399.3L176.1 399.6L177.5 400.0L179.0 400.3L180.5 400.6L181.9 400.9L183.4 401.2L184.9 401.5L186.4 401.8L187.8 402.1L189.3 402.4L190.8 402.7L192.3 403.0L193.8 403.2L195.2 403.5L196.7 403.8L198.2 404.0L199.7 404.3L201.2 404.5L202.7 404.7L204.1 405.0L205.6 405.2L207.1 405.4L208.6 405.6L210.1 405.9L211.6 406.1L213.1 406.3L214.6 406.5L216.1 406.7L217.6 406.9L219.0 407.1L220.5 407.2L222.0 407.4L223.5 407.6L225.0 407.8L226.5 408.0L228.0 408.1L229.5 408.3L231.0 408.5L232.5 408.6L234.0 408.8L235.5 408.9L237.0 409.1L238.5 409.2L240.0 409.4L241.5 409.5L243.0 409.7L244.5 409.8L246.0 409.9L247.5 410.1L249.0 410.2L250.5 410.3L252.0 410.5L253.5 410.6L255.0 410.7L256.5 410.8L258.0 410.9L259.5 411.0L261.0 411.2L262.5 411.3L264.0 411.4L265.5 411.5L267.0 411.6L268.5 411.7L270.0 411.8L271.5 411.9L273.0 412.0L274.5 412.1L276.0 412.2L277.6 412.3L279.1 412.3L280.6 412.4L282.1 412.5L283.6 412.6L285.1 412.7L286.6 412.8L288.1 412.8L289.6 412.9L291.1 413.0L292.6 413.1L294.1 413.1L295.6 413.2L297.1 413.3L298.6 413.4L300.1 413.4L301.6 413.5L303.1 413.6L304.7 413.6L306.2 413.7L307.7 413.8L309.2 413.8L310.7 413.9L312.2 413.9L313.7 414.0L315.2 414.1L316.7 414.1L318.2 414.2L319.7 414.3L321.2 414.3L322.7 414.4L324.2 414.4L325.7 414.5L327.3 414.5L328.8 414.6L330.3 414.7L331.8 414.7L333.3 414.8L334.8 414.8L336.3 414.9L337.8 414.9L339.3 415.0L340.8 415.0L342.3 415.1L343.8 415.1L345.3 415.2L346.8 415.3L348.3 415.3L349.8 415.4L351.4 415.4L352.9 415.5L354.4 415.5L355.9 415.6L357.4 415.6L358.9 415.7L360.4 415.7L361.9 415.8L363.4 415.8L364.9 415.9L366.4 415.9L367.9 416.0L369.4 416.0L370.9 416.1L372.4 416.1L373.9 416.2L375.4 416.2L376.9 416.3L378.4 416.3L380.0 416.4L381.5 416.4L383.0 416.5L384.5 416.5L386.0 416.5L387.5 416.6L389.0 416.6L390.5 416.7L392.0 416.7L393.5 416.8L395.0 416.8L396.5 416.9L398.0 416.9L399.5 416.9L401.0 417.0L402.5 417.0L404.0 417.1L405.5 417.1L407.0 417.1L408.5 417.2L410.0 417.2L411.6 417.3L413.1 417.3L414.6 417.3L416.1 417.4L417.6 417.4L419.1 417.5L420.6 417.5L422.1 417.5L423.6 417.6L425.1 417.6L426.6 417.6L428.1 417.7L429.6 417.7L431.1 417.7L432.6 417.8L434.1 417.8L435.6 417.8L437.1 417.9L438.6 417.9L440.1 417.9L441.7 417.9L443.2 418.0L444.7 418.0L446.2 418.0L447.7 418.1L449.2 418.1L450.7 418.1L452.2 418.1L453.7 418.2L455.2 418.2L456.7 418.2L458.2 418.2L459.7 418.3L461.2 418.3L462.7 418.3L464.2 418.3L465.7 418.4L467.3 418.4L468.8 418.4L470.3 418.4L471.8 418.4L473.3 418.5L474.8 418.5L476.3 418.5L477.8 418.5L479.3 418.5L480.8 418.5L482.3 418.6L483.8 418.6L485.3 418.6L486.8 418.6L488.3 418.6L489.9 418.6L491.4 418.6L492.9 418.6L494.4 418.7L495.9 418.7L497.4 418.7L498.9 418.7L500.4 418.7L501.9 418.7L503.4 418.7L504.9 418.7L506.4 418.7L507.9 418.7L509.5 418.7L511.0 418.7L512.5 418.7L514.0 418.7L515.5 418.7L517.0 418.7L518.5 418.7L520.0 418.7" stroke="#000000" stroke-width="3.05" style="stroke-linecap:round"/>
</g>
<g clip-path="url(#cb)">
<path class="d" d="M897.9 414.2L899.3 414.9L900.6 415.7L902.0 416.4L903.3 417.1L904.7 417.8L906.1 418.5L907.4 419.1L908.8 419.7L910.2 420.3L911.6 420.9L913.0 421.4L914.5 422.0L915.9 422.5L917.3 422.9L918.8 423.4L920.2 423.8L921.7 424.2L923.1 424.6L924.6 425.0L926.1 425.3L927.5 425.7L929.0 426.0L930.5 426.3L932.0 426.6L933.5 426.9L935.0 427.2L936.5 427.5L937.9 427.8L939.4 428.1L940.9 428.4L942.4 428.6L943.9 428.9L945.4 429.2L946.9 429.4L948.4 429.7L949.9 429.9L951.4 430.1L952.9 430.4L954.4 430.6L955.9 430.8L957.4 431.0L958.9 431.2L960.5 431.4L962.0 431.6L963.5 431.8L965.0 431.9L966.5 432.1L968.0 432.3L969.5 432.4L971.0 432.5L972.5 432.7L974.0 432.8L975.6 432.9L977.1 433.0L978.6 433.1L980.1 433.2L981.6 433.3L983.1 433.4L984.6 433.5L986.1 433.6L987.7 433.7L989.2 433.7L990.7 433.8L992.2 433.9L993.7 433.9L995.2 434.0L996.8 434.0L998.3 434.0L999.8 434.1L1001.3 434.1L1002.8 434.1L1004.4 434.2L1005.9 434.2L1007.4 434.2L1008.9 434.2L1010.4 434.3L1012.0 434.3L1013.5 434.3L1015.0 434.3L1016.5 434.3L1018.0 434.3L1019.5 434.3L1021.1 434.3L1022.6 434.3L1024.1 434.3L1025.6 434.3L1027.1 434.3L1028.7 434.3L1030.2 434.3L1031.7 434.3L1033.2 434.3L1034.7 434.3L1036.3 434.3L1037.8 434.3L1039.3 434.3L1040.8 434.3L1042.3 434.3L1043.9 434.3L1045.4 434.3L1046.9 434.3L1048.4 434.3L1049.9 434.3L1051.4 434.3L1053.0 434.4L1054.5 434.4L1056.0 434.4" stroke="#00ff00" stroke-width="2.3" stroke-dasharray="0.4 5.699999999999999" stroke-dashoffset="0"/>
<path class="c" d="M600.4 174.4L601.8 175.0L603.2 175.6L604.6 176.2L605.9 176.8L607.3 177.4L608.7 178.0L610.1 178.6L611.4 179.2L612.8 179.7L614.2 180.3L615.6 180.9L617.0 181.5L618.4 182.0L619.8 182.6L621.2 183.1L622.6 183.7L624.0 184.3L625.4 184.8L626.8 185.4L628.1 185.9L629.5 186.5L630.9 187.0L632.3 187.6L633.7 188.1L635.1 188.7L636.5 189.2L637.9 189.8L639.3 190.4L640.7 190.9L642.1 191.5L643.5 192.1L644.9 192.6L646.3 193.2L647.7 193.8L649.0 194.4L650.4 195.0L651.8 195.6L653.2 196.2L654.6 196.8L655.9 197.4L657.3 198.0L658.7 198.7L660.0 199.3L661.4 200.0L662.7 200.6L664.1 201.3L665.4 202.0L666.8 202.7L668.1 203.3L669.5 204.0L670.8 204.7L672.1 205.5L673.5 206.2L674.8 206.9L676.1 207.6L677.4 208.4L678.8 209.1L680.1 209.9L681.4 210.7L682.7 211.4L684.0 212.2L685.3 213.0L686.6 213.8L687.8 214.6L689.1 215.4L690.4 216.2L691.7 217.0L692.9 217.8L694.2 218.7L695.5 219.5L696.7 220.4L698.0 221.2L699.2 222.1L700.5 222.9L701.7 223.8L702.9 224.7L704.1 225.6L705.4 226.5L706.6 227.4L707.8 228.3L709.0 229.2L710.2 230.1L711.4 231.0L712.6 231.9L713.8 232.9L714.9 233.8L716.1 234.7L717.3 235.7L718.4 236.6L719.6 237.6L720.7 238.6L721.9 239.5L723.0 240.5L724.2 241.5L725.3 242.5L726.4 243.4L727.5 244.4L728.7 245.4L729.8 246.4L730.9 247.4L732.0 248.5L733.1 249.5L734.1 250.5L735.2 251.5L736.3 252.6L737.4 253.6L738.5 254.6L739.5 255.7L740.6 256.7L741.7 257.8L742.7 258.8L743.8 259.9L744.8 260.9L745.9 262.0L746.9 263.1L747.9 264.1L749.0 265.2L750.0 266.3L751.0 267.4L752.1 268.5L753.1 269.6L754.1 270.6L755.1 271.7L756.1 272.8L757.1 273.9L758.2 275.0L759.2 276.2L760.2 277.3L761.2 278.4L762.2 279.5L763.2 280.6L764.2 281.7L765.1 282.8L766.1 284.0L767.1 285.1L768.1 286.2L769.1 287.4L770.1 288.5L771.1 289.6L772.0 290.8L773.0 291.9L774.0 293.0L775.0 294.2L775.9 295.3L776.9 296.5L777.9 297.6L778.9 298.8L779.8 299.9L780.8 301.1L781.8 302.2L782.7 303.4L783.7 304.5L784.7 305.7L785.6 306.8L786.6 308.0L787.6 309.1L788.5 310.3L789.5 311.5L790.5 312.6L791.4 313.8L792.4 314.9L793.4 316.1L794.3 317.3L795.3 318.4L796.3 319.6L797.2 320.7L798.2 321.9L799.2 323.1L800.1 324.2L801.1 325.4L802.1 326.6L803.0 327.7L804.0 328.9L805.0 330.0L806.0 331.2L807.0 332.4L807.9 333.5L808.9 334.7L809.9 335.8L810.9 337.0L811.9 338.1L812.9 339.3L813.8 340.4L814.8 341.6L815.8 342.7L816.8 343.9L817.8 345.0L818.8 346.2L819.8 347.3L820.8 348.5L821.8 349.6L822.9 350.7L823.9 351.9L824.9 353.0L825.9 354.1L826.9 355.3L828.0 356.4L829.0 357.5L830.0 358.7L831.1 359.8L832.1 360.9L833.1 362.0L834.2 363.1L835.2 364.2L836.3 365.3L837.3 366.4L838.4 367.5L839.5 368.6L840.5 369.7L841.6 370.8L842.7 371.8L843.8 372.9L844.8 374.0L845.9 375.0L847.0 376.1L848.1 377.1L849.2 378.2L850.3 379.2L851.4 380.2L852.5 381.3L853.6 382.3L854.8 383.3L855.9 384.3L857.0 385.3L858.2 386.3L859.3 387.3L860.4 388.2L861.6 389.2L862.7 390.2L863.9 391.1L865.1 392.0L866.2 393.0L867.4 393.9L868.6 394.8L869.8 395.7L871.0 396.6L872.2 397.5L873.4 398.4L874.6 399.2L875.8 400.1L877.0 400.9L878.2 401.8L879.5 402.6L880.7 403.4L882.0 404.2L883.2 405.0L884.5 405.8L885.7 406.6L887.0 407.3L888.3 408.1L889.5 408.8L890.8 409.5L892.1 410.2L893.4 410.9L894.7 411.6L896.0 412.3L897.4 412.9L898.7 413.6L900.0 414.2L901.4 414.8L902.7 415.4L904.0 416.0L905.4 416.6L906.8 417.2L908.2 417.7L909.5 418.2L910.9 418.8L912.3 419.3L913.7 419.8L915.1 420.2L916.6 420.7L918.0 421.1L919.4 421.6L920.8 422.0L922.3 422.4L923.7 422.8L925.2 423.1L926.7 423.5L928.1 423.9L929.6 424.2L931.1 424.5L932.6 424.8L934.0 425.1L935.5 425.4L937.0 425.7L938.5 426.0L940.0 426.2L941.5 426.5L943.0 426.7L944.5 427.0L946.1 427.2L947.6 427.4L949.1 427.6L950.6 427.8L952.1 428.0L953.7 428.2L955.2 428.4L956.7 428.5L958.2 428.7L959.7 428.8L961.3 429.0L962.8 429.1L964.3 429.3L965.8 429.4L967.4 429.5L968.9 429.6L970.4 429.8L971.9 429.9L973.4 430.0L975.0 430.1L976.5 430.2L978.0 430.3L979.5 430.4L981.0 430.5L982.5 430.6L984.0 430.6L985.5 430.7L987.1 430.8L988.6 430.9L990.1 430.9L991.6 431.0L993.1 431.1L994.6 431.2L996.1 431.2L997.6 431.3L999.1 431.3L1000.6 431.4L1002.1 431.5L1003.6 431.5L1005.1 431.6L1006.6 431.6L1008.1 431.7L1009.5 431.7L1011.0 431.8L1012.5 431.8L1014.0 431.9L1015.5 431.9L1017.0 432.0L1018.5 432.0L1020.0 432.1L1021.5 432.1L1023.0 432.2L1024.5 432.2L1026.0 432.3L1027.5 432.3L1029.0 432.4L1030.5 432.5L1031.9 432.5L1033.4 432.6L1034.9 432.6L1036.4 432.7L1037.9 432.7L1039.4 432.8L1040.9 432.9L1042.4 432.9L1043.9 433.0L1045.4 433.1L1046.9 433.2L1048.4 433.2L1049.9 433.3L1051.4 433.4L1052.9 433.5L1054.4 433.6L1055.9 433.7" stroke="#00ff00" stroke-width="3.1"/>
<path class="d" d="M897.4 404.9L898.9 405.4L900.3 405.9L901.7 406.4L903.2 406.9L904.6 407.4L906.0 408.0L907.4 408.5L908.9 409.0L910.3 409.5L911.7 410.0L913.1 410.6L914.5 411.1L916.0 411.6L917.4 412.1L918.8 412.6L920.3 413.1L921.7 413.6L923.1 414.1L924.5 414.6L926.0 415.1L927.4 415.6L928.9 416.1L930.3 416.5L931.7 417.0L933.2 417.4L934.6 417.9L936.1 418.3L937.6 418.7L939.0 419.1L940.5 419.5L941.9 419.8L943.4 420.2L944.9 420.5L946.4 420.9L947.8 421.2L949.3 421.6L950.8 421.9L952.3 422.3L953.7 422.7L955.2 423.0L956.7 423.4L958.2 423.7L959.6 424.1L961.1 424.4L962.6 424.8L964.1 425.1L965.5 425.4L967.0 425.8L968.5 426.1L970.0 426.4L971.5 426.7L973.0 427.0L974.5 427.3L975.9 427.6L977.4 427.8L978.9 428.1L980.4 428.4L981.9 428.6L983.4 428.9L984.9 429.1L986.4 429.3L987.9 429.5L989.4 429.7L990.9 429.9L992.4 430.1L993.9 430.3L995.4 430.4L996.9 430.6L998.4 430.8L999.9 430.9L1001.5 431.0L1003.0 431.2L1004.5 431.3L1006.0 431.4L1007.5 431.5L1009.0 431.7L1010.5 431.8L1012.0 431.9L1013.6 432.0L1015.1 432.0L1016.6 432.1L1018.1 432.2L1019.6 432.3L1021.1 432.4L1022.7 432.4L1024.2 432.5L1025.7 432.6L1027.2 432.6L1028.7 432.7L1030.3 432.8L1031.8 432.8L1033.3 432.9L1034.8 432.9L1036.3 433.0L1037.8 433.0L1039.4 433.1L1040.9 433.1L1042.4 433.2L1043.9 433.2L1045.4 433.3L1046.9 433.3L1048.4 433.4L1050.0 433.4L1051.5 433.5L1053.0 433.5L1054.5 433.6L1056.0 433.6" stroke="#0000ff" stroke-width="2.3" stroke-dasharray="0.4 5.699999999999999" stroke-dashoffset="0"/>
<path class="c" d="M600.5 138.0L601.9 138.5L603.3 139.0L604.8 139.5L606.2 140.0L607.6 140.5L609.0 141.0L610.4 141.5L611.8 142.0L613.3 142.5L614.7 143.0L616.1 143.5L617.5 144.0L618.9 144.5L620.3 145.1L621.8 145.6L623.2 146.1L624.6 146.6L626.0 147.2L627.4 147.7L628.8 148.3L630.2 148.8L631.6 149.3L633.0 149.9L634.5 150.5L635.9 151.0L637.2 151.6L638.6 152.2L640.0 152.7L641.4 153.3L642.8 153.9L644.2 154.5L645.6 155.1L646.9 155.7L648.3 156.3L649.7 157.0L651.0 157.6L652.4 158.2L653.7 158.9L655.1 159.5L656.4 160.2L657.8 160.8L659.1 161.5L660.5 162.1L661.8 162.8L663.2 163.4L664.5 164.1L665.9 164.8L667.2 165.4L668.5 166.1L669.9 166.8L671.2 167.4L672.6 168.1L673.9 168.8L675.3 169.4L676.6 170.1L678.0 170.8L679.3 171.4L680.7 172.1L682.1 172.8L683.4 173.4L684.8 174.1L686.2 174.7L687.5 175.4L688.9 176.0L690.3 176.6L691.6 177.3L693.0 177.9L694.4 178.6L695.8 179.2L697.1 179.9L698.5 180.6L699.9 181.2L701.2 181.9L702.6 182.6L703.9 183.3L705.3 183.9L706.6 184.7L707.9 185.4L709.3 186.1L710.6 186.8L711.9 187.6L713.2 188.3L714.5 189.1L715.8 189.8L717.1 190.6L718.3 191.4L719.6 192.2L720.9 192.9L722.1 193.7L723.4 194.6L724.6 195.4L725.9 196.2L727.1 197.0L728.3 197.8L729.5 198.7L730.8 199.5L732.0 200.3L733.2 201.1L734.4 202.0L735.6 202.8L736.8 203.6L737.9 204.8L739.1 206.4L740.3 207.5L741.4 208.4L742.6 209.3L743.8 210.2L744.9 211.1L746.1 212.0L747.2 212.9L748.3 213.9L749.5 214.8L750.6 215.8L751.7 216.8L752.8 217.7L753.9 218.7L755.0 219.7L756.1 220.7L757.2 221.7L758.3 222.8L759.4 223.8L760.5 224.8L761.6 225.9L762.6 226.9L763.7 228.0L764.8 229.0L765.8 230.1L766.9 231.2L767.9 232.2L769.0 233.3L770.0 234.4L771.1 235.5L772.1 236.6L773.2 237.7L774.2 238.8L775.2 239.9L776.2 241.0L777.2 242.1L778.3 243.2L779.3 244.4L780.3 245.5L781.3 246.6L782.3 247.7L783.3 248.9L784.3 250.0L785.3 251.2L786.3 252.3L787.3 253.5L788.2 254.6L789.2 255.8L790.2 256.9L791.2 258.1L792.1 259.2L793.1 260.4L794.1 261.6L795.1 262.7L796.0 263.9L797.0 265.1L797.9 266.3L798.9 267.4L799.8 268.6L800.8 269.8L801.7 271.0L802.7 272.2L803.6 273.4L804.6 274.5L805.5 275.7L806.5 276.9L807.4 278.1L808.3 279.3L809.3 280.5L810.2 281.7L811.1 282.9L812.1 284.1L813.0 285.3L813.9 286.5L814.8 287.7L815.8 288.8L816.7 290.0L817.6 291.2L818.5 292.4L819.4 293.6L820.4 294.8L821.3 296.0L822.2 297.2L823.1 298.4L824.0 299.6L824.9 300.8L825.8 302.0L826.8 303.2L827.7 304.4L828.6 305.5L829.5 306.7L830.4 307.9L831.3 309.1L832.2 310.3L833.1 311.5L834.1 312.7L835.0 313.8L835.9 315.0L836.8 316.2L837.7 317.4L838.7 318.5L839.6 319.7L840.5 320.9L841.4 322.1L842.4 323.2L843.3 324.4L844.2 325.6L845.2 326.7L846.1 327.9L847.1 329.0L848.0 330.2L849.0 331.4L849.9 332.5L850.9 333.7L851.8 334.8L852.8 336.0L853.8 337.1L854.7 338.2L855.7 339.4L856.7 340.5L857.7 341.7L858.7 342.8L859.7 343.9L860.7 345.1L861.7 346.2L862.7 347.3L863.7 348.4L864.7 349.6L865.7 350.7L866.7 351.8L867.7 353.0L868.7 354.1L869.7 355.2L870.7 356.4L871.7 357.5L872.6 358.7L873.6 359.8L874.6 361.0L875.5 362.1L876.5 363.3L877.4 364.5L878.4 365.7L879.3 366.9L880.2 368.1L881.1 369.3L882.0 370.5L882.9 371.7L883.7 373.0L884.6 374.2L885.4 375.5L886.2 376.8L887.0 378.1L887.8 379.4L888.6 380.6L889.4 381.9L890.2 383.2L891.0 384.5L891.9 385.8L892.7 387.0L893.6 388.3L894.4 389.5L895.4 390.7L896.3 391.8L897.3 392.9L898.3 394.0L899.4 395.1L900.5 396.1L901.7 397.0L902.9 397.9L904.2 398.7L905.5 399.4L906.8 400.1L908.2 400.7L909.5 401.3L910.9 401.9L912.3 402.5L913.7 403.2L915.0 403.8L916.4 404.5L917.7 405.3L919.0 406.0L920.3 406.8L921.6 407.6L922.9 408.3L924.2 409.1L925.6 409.8L926.9 410.5L928.2 411.2L929.5 411.9L930.9 412.6L932.2 413.2L933.6 413.9L935.0 414.5L936.3 415.1L937.7 415.7L939.1 416.3L940.4 416.9L941.8 417.4L943.2 418.0L944.6 418.5L946.0 419.0L947.4 419.5L948.8 420.0L950.3 420.5L951.7 420.9L953.1 421.4L954.5 421.8L956.0 422.3L957.4 422.7L958.8 423.1L960.3 423.5L961.7 423.9L963.2 424.2L964.6 424.6L966.1 424.9L967.5 425.3L969.0 425.6L970.5 425.9L971.9 426.2L973.4 426.5L974.9 426.8L976.4 427.1L977.9 427.4L979.3 427.6L980.8 427.9L982.3 428.1L983.8 428.4L985.3 428.6L986.8 428.8L988.3 429.0L989.8 429.2L991.3 429.4L992.8 429.6L994.3 429.8L995.8 430.0L997.3 430.1L998.8 430.3L1000.3 430.5L1001.8 430.6L1003.3 430.7L1004.8 430.9L1006.4 431.0L1007.9 431.1L1009.4 431.2L1010.9 431.4L1012.4 431.5L1013.9 431.6L1015.4 431.7L1016.9 431.8L1018.5 431.8L1020.0 431.9L1021.5 432.0L1023.0 432.1L1024.5 432.2L1026.0 432.2L1027.5 432.3L1029.0 432.4L1030.5 432.4L1032.0 432.5L1033.6 432.5L1035.1 432.6L1036.6 432.6L1038.1 432.7L1039.6 432.7L1041.1 432.8L1042.6 432.8L1044.1 432.8L1045.6 432.9L1047.0 432.9L1048.5 432.9L1050.0 433.0L1051.5 433.0L1053.0 433.0L1054.5 433.1L1055.9 433.1" stroke="#0000ff" stroke-width="3.1"/>
<path class="d" d="M896.5 379.9L897.8 380.7L899.1 381.5L900.3 382.4L901.6 383.2L902.8 384.1L904.1 384.9L905.3 385.8L906.6 386.7L907.8 387.5L909.0 388.4L910.3 389.3L911.5 390.1L912.8 391.0L914.0 391.9L915.3 392.7L916.5 393.6L917.8 394.4L919.0 395.2L920.3 396.0L921.6 396.8L922.9 397.6L924.2 398.4L925.6 399.1L926.9 399.8L928.3 400.5L929.6 401.1L931.0 401.7L932.4 402.2L933.8 402.8L935.3 403.3L936.7 403.9L938.0 404.5L939.4 405.1L940.7 405.8L942.1 406.5L943.4 407.2L944.7 408.0L946.0 408.8L947.3 409.6L948.6 410.3L949.9 411.1L951.2 411.8L952.6 412.6L953.9 413.3L955.3 414.0L956.6 414.7L958.0 415.4L959.4 416.0L960.7 416.6L962.1 417.2L963.5 417.8L965.0 418.3L966.4 418.8L967.8 419.4L969.2 419.8L970.7 420.3L972.1 420.7L973.6 421.2L975.0 421.6L976.5 422.0L978.0 422.4L979.4 422.7L980.9 423.1L982.4 423.5L983.9 423.8L985.3 424.1L986.8 424.5L988.3 424.8L989.8 425.1L991.3 425.4L992.8 425.7L994.2 425.9L995.7 426.2L997.2 426.5L998.7 426.7L1000.2 427.0L1001.7 427.2L1003.2 427.4L1004.7 427.7L1006.2 427.9L1007.7 428.1L1009.2 428.3L1010.7 428.5L1012.2 428.7L1013.7 428.9L1015.2 429.1L1016.7 429.3L1018.2 429.4L1019.8 429.6L1021.3 429.8L1022.8 429.9L1024.3 430.1L1025.8 430.2L1027.3 430.4L1028.8 430.5L1030.3 430.6L1031.8 430.8L1033.3 430.9L1034.9 431.0L1036.4 431.2L1037.9 431.3L1039.4 431.4L1040.9 431.5L1042.4 431.6L1043.9 431.8L1045.4 431.9L1046.9 432.0L1048.5 432.1L1050.0 432.2L1051.5 432.3L1053.0 432.4L1054.5 432.5L1056.0 432.6" stroke="#ff00ff" stroke-width="2.3" stroke-dasharray="0.4 5.699999999999999" stroke-dashoffset="0"/>
<path class="c" d="M600.5 107.0L601.9 107.5L603.3 108.1L604.6 108.7L606.0 109.3L607.4 109.8L608.8 110.4L610.2 111.1L611.5 111.7L612.9 112.3L614.3 112.9L615.7 113.5L617.1 114.2L618.4 114.8L619.8 115.4L621.2 116.0L622.6 116.7L623.9 117.3L625.3 117.9L626.7 118.5L628.1 119.1L629.5 119.7L630.9 120.3L632.3 120.8L633.7 121.4L635.1 121.9L636.5 122.5L637.9 123.0L639.3 123.5L640.8 124.0L642.2 124.5L643.6 124.9L645.1 125.3L646.5 125.8L647.9 126.1L649.4 126.5L650.9 126.9L652.3 127.2L653.8 127.5L655.3 127.8L656.8 128.1L658.2 128.4L659.7 128.7L661.2 129.0L662.7 129.2L664.2 129.5L665.7 129.7L667.2 130.0L668.7 130.2L670.1 130.5L671.6 130.7L673.1 131.0L674.6 131.2L676.1 131.5L677.6 131.8L679.1 132.1L680.5 132.3L682.0 132.6L683.5 133.0L685.0 133.3L686.4 133.6L687.9 134.0L689.3 134.4L690.8 134.8L692.2 135.2L693.7 135.6L695.1 136.1L696.5 136.5L697.9 137.0L699.3 137.5L700.7 138.0L702.1 138.6L703.5 139.1L704.9 139.7L706.3 140.3L707.7 140.9L709.0 141.5L710.4 142.1L711.8 142.8L713.1 143.4L714.4 144.1L715.8 144.8L717.1 145.5L718.4 146.2L719.7 146.9L721.1 147.7L722.4 148.4L723.7 149.2L724.9 149.9L726.2 150.7L727.5 151.5L728.8 152.3L730.0 153.1L731.3 153.8L732.5 154.6L733.8 155.4L735.0 156.2L736.2 157.0L737.5 157.8L738.7 159.2L739.9 160.9L741.1 162.0L742.3 162.8L743.4 163.6L744.6 164.5L745.8 165.4L747.0 166.3L748.1 167.2L749.3 168.1L750.4 169.1L751.5 170.0L752.7 171.0L753.8 172.0L754.9 172.9L756.0 173.9L757.1 174.9L758.2 175.9L759.3 177.0L760.4 178.0L761.5 179.0L762.6 180.1L763.7 181.1L764.7 182.2L765.8 183.2L766.9 184.3L767.9 185.3L769.0 186.4L770.0 187.5L771.1 188.6L772.1 189.6L773.2 190.7L774.2 191.8L775.2 192.9L776.3 194.0L777.3 195.1L778.3 196.2L779.3 197.3L780.3 198.4L781.3 199.6L782.4 200.7L783.4 201.8L784.4 202.9L785.4 204.0L786.4 205.2L787.4 206.3L788.4 207.4L789.4 208.6L790.4 209.7L791.4 210.8L792.4 212.0L793.4 213.1L794.4 214.2L795.3 215.4L796.3 216.5L797.3 217.6L798.3 218.8L799.3 219.9L800.3 221.1L801.3 222.2L802.3 223.3L803.3 224.5L804.2 225.6L805.2 226.8L806.2 227.9L807.2 229.1L808.2 230.2L809.2 231.4L810.1 232.5L811.1 233.7L812.1 234.8L813.1 236.0L814.0 237.1L815.0 238.3L815.9 239.4L816.9 240.6L817.9 241.8L818.8 242.9L819.8 244.1L820.7 245.3L821.6 246.5L822.6 247.7L823.5 248.8L824.4 250.0L825.4 251.2L826.3 252.4L827.2 253.6L828.1 254.8L829.0 256.0L829.9 257.2L830.8 258.4L831.7 259.7L832.5 260.9L833.4 262.1L834.3 263.3L835.1 264.6L836.0 265.8L836.9 267.0L837.7 268.3L838.5 269.5L839.4 270.8L840.2 272.0L841.0 273.3L841.9 274.6L842.7 275.8L843.5 277.1L844.3 278.4L845.2 279.6L846.0 280.9L846.8 282.2L847.6 283.4L848.4 284.7L849.2 286.0L850.1 287.2L850.9 288.5L851.7 289.8L852.5 291.0L853.3 292.3L854.1 293.6L855.0 294.8L855.8 296.1L856.6 297.4L857.5 298.6L858.3 299.9L859.1 301.1L860.0 302.4L860.8 303.6L861.7 304.9L862.5 306.1L863.4 307.4L864.3 308.6L865.1 309.8L866.0 311.0L866.9 312.3L867.8 313.5L868.7 314.7L869.6 315.9L870.5 317.1L871.5 318.3L872.4 319.5L873.3 320.7L874.2 321.9L875.2 323.1L876.1 324.3L877.0 325.4L877.9 326.6L878.8 327.8L879.7 329.0L880.6 330.3L881.5 331.5L882.4 332.7L883.2 333.9L884.1 335.2L884.9 336.4L885.7 337.7L886.5 339.0L887.2 340.3L888.0 341.6L888.7 342.9L889.4 344.2L890.1 345.6L890.8 346.9L891.5 348.2L892.2 349.6L892.8 350.9L893.5 352.3L894.2 353.6L895.0 354.9L895.7 356.2L896.4 357.6L897.2 358.9L897.9 360.2L898.7 361.5L899.4 362.8L900.2 364.1L901.0 365.4L901.7 366.7L902.5 368.0L903.3 369.3L904.1 370.6L904.9 371.9L905.7 373.2L906.5 374.4L907.4 375.7L908.3 376.9L909.2 378.1L910.1 379.2L911.1 380.4L912.1 381.4L913.2 382.5L914.3 383.5L915.4 384.5L916.5 385.5L917.7 386.5L918.8 387.5L920.0 388.5L921.1 389.4L922.3 390.4L923.5 391.3L924.7 392.3L925.9 393.2L927.1 394.1L928.3 395.1L929.5 396.0L930.7 396.9L931.9 397.8L933.1 398.6L934.4 399.5L935.6 400.4L936.8 401.2L938.1 402.1L939.3 402.9L940.6 403.8L941.9 404.6L943.2 405.4L944.4 406.2L945.7 407.0L947.0 407.7L948.3 408.5L949.6 409.2L950.9 410.0L952.3 410.7L953.6 411.4L954.9 412.1L956.3 412.8L957.6 413.5L958.9 414.1L960.3 414.8L961.7 415.4L963.0 416.0L964.4 416.6L965.8 417.2L967.2 417.8L968.5 418.4L969.9 418.9L971.3 419.5L972.7 420.0L974.1 420.5L975.6 421.0L977.0 421.4L978.4 421.9L979.8 422.3L981.3 422.8L982.7 423.2L984.2 423.6L985.6 423.9L987.1 424.3L988.5 424.6L990.0 425.0L991.5 425.3L993.0 425.6L994.4 425.9L995.9 426.1L997.4 426.4L998.9 426.6L1000.4 426.9L1001.9 427.1L1003.4 427.3L1004.9 427.5L1006.4 427.7L1007.9 427.9L1009.4 428.1L1010.9 428.3L1012.4 428.4L1013.9 428.6L1015.4 428.8L1016.9 428.9L1018.5 429.0L1020.0 429.2L1021.5 429.3L1023.0 429.4L1024.5 429.6L1026.0 429.7L1027.5 429.8L1029.0 430.0L1030.6 430.1L1032.1 430.2L1033.6 430.3L1035.1 430.4L1036.6 430.6L1038.1 430.7L1039.6 430.8L1041.1 430.9L1042.6 431.1L1044.1 431.2L1045.6 431.4L1047.1 431.5L1048.5 431.6L1050.0 431.8L1051.5 432.0L1053.0 432.1L1054.4 432.3L1055.9 432.5" stroke="#ff00ff" stroke-width="3.1"/>
<path class="c" d="M600.5 90.1L601.8 90.8L603.1 91.5L604.4 92.3L605.7 93.0L607.0 93.7L608.3 94.5L609.6 95.2L610.9 96.0L612.2 96.7L613.5 97.5L614.9 98.2L616.2 99.0L617.5 99.7L618.8 100.4L620.1 101.2L621.5 101.9L622.8 102.6L624.2 103.3L625.5 104.0L626.8 104.7L628.2 105.4L629.5 106.1L630.9 106.7L632.3 107.4L633.6 108.0L635.0 108.6L636.4 109.2L637.8 109.8L639.2 110.4L640.6 111.0L642.0 111.5L643.4 112.0L644.8 112.5L646.2 113.0L647.6 113.4L649.1 113.8L650.5 114.2L651.9 114.6L653.4 114.9L654.9 115.2L656.3 115.5L657.8 115.8L659.3 116.1L660.8 116.3L662.2 116.5L663.7 116.7L665.2 116.9L666.7 117.0L668.3 117.2L669.8 117.3L671.3 117.4L672.8 117.5L674.3 117.6L675.8 117.7L677.3 117.8L678.9 117.9L680.4 118.0L681.9 118.1L683.4 118.2L684.9 118.3L686.4 118.4L688.0 118.5L689.5 118.6L691.0 118.7L692.5 118.9L694.0 119.0L695.5 119.1L697.0 119.3L698.5 119.5L700.0 119.7L701.4 119.9L702.9 120.2L704.4 120.4L705.9 120.7L707.3 121.0L708.8 121.3L710.2 121.7L711.6 122.1L713.1 122.5L714.5 122.9L715.9 123.3L717.3 123.8L718.7 124.3L720.1 124.8L721.5 125.3L722.9 125.8L724.2 126.4L725.6 127.0L727.0 127.6L728.3 128.1L729.6 128.8L731.0 129.4L732.3 130.0L733.6 130.6L735.0 131.2L736.3 131.9L737.6 132.8L738.9 134.3L740.2 135.5L741.5 136.2L742.7 136.9L744.0 137.7L745.3 138.4L746.5 139.2L747.8 140.0L749.0 140.9L750.3 141.7L751.5 142.6L752.7 143.5L754.0 144.4L755.2 145.3L756.4 146.2L757.6 147.2L758.8 148.1L760.0 149.1L761.2 150.0L762.4 151.0L763.5 152.0L764.7 153.0L765.9 154.0L767.0 155.0L768.2 156.0L769.3 157.0L770.4 158.0L771.6 159.0L772.7 160.0L773.8 161.1L774.9 162.1L776.1 163.1L777.2 164.2L778.3 165.2L779.3 166.3L780.4 167.3L781.5 168.3L782.6 169.4L783.7 170.4L784.7 171.5L785.8 172.6L786.8 173.6L787.9 174.7L788.9 175.8L789.9 176.8L791.0 177.9L792.0 179.0L793.0 180.1L794.0 181.2L795.0 182.3L796.0 183.4L797.0 184.5L798.0 185.6L799.0 186.7L799.9 187.9L800.9 189.0L801.9 190.1L802.8 191.3L803.8 192.4L804.7 193.6L805.6 194.7L806.6 195.9L807.5 197.1L808.4 198.2L809.3 199.4L810.2 200.6L811.1 201.8L812.0 203.0L812.9 204.2L813.8 205.4L814.6 206.7L815.5 207.9L816.4 209.1L817.2 210.4L818.1 211.6L818.9 212.9L819.8 214.1L820.6 215.4L821.5 216.6L822.3 217.9L823.1 219.1L824.0 220.4L824.8 221.7L825.6 223.0L826.4 224.2L827.2 225.5L828.1 226.8L828.9 228.1L829.7 229.4L830.5 230.7L831.3 231.9L832.1 233.2L832.9 234.5L833.7 235.8L834.5 237.1L835.3 238.4L836.1 239.7L836.9 240.9L837.7 242.2L838.5 243.5L839.3 244.8L840.1 246.1L840.9 247.4L841.7 248.6L842.5 249.9L843.3 251.2L844.1 252.5L844.9 253.8L845.7 255.0L846.5 256.3L847.3 257.6L848.1 258.9L848.9 260.2L849.7 261.4L850.5 262.7L851.3 264.0L852.1 265.3L852.9 266.5L853.6 267.8L854.4 269.1L855.2 270.4L856.0 271.7L856.8 272.9L857.6 274.2L858.3 275.5L859.1 276.8L859.9 278.1L860.7 279.4L861.4 280.6L862.2 281.9L863.0 283.2L863.8 284.5L864.5 285.8L865.3 287.1L866.0 288.4L866.8 289.7L867.5 291.0L868.3 292.3L869.1 293.6L869.8 294.9L870.5 296.2L871.3 297.5L872.0 298.8L872.8 300.1L873.5 301.4L874.2 302.7L874.9 304.0L875.7 305.3L876.4 306.7L877.1 308.0L877.8 309.3L878.5 310.6L879.2 312.0L879.9 313.3L880.6 314.6L881.3 316.0L882.0 317.3L882.7 318.7L883.4 320.0L884.1 321.4L884.7 322.7L885.4 324.1L886.1 325.5L886.7 326.8L887.4 328.2L888.1 329.5L888.7 330.9L889.4 332.3L890.1 333.6L890.7 335.0L891.4 336.3L892.1 337.7L892.8 339.0L893.5 340.4L894.2 341.7L895.0 343.0L895.7 344.3L896.4 345.6L897.2 346.9L898.0 348.2L898.8 349.5L899.6 350.8L900.4 352.0L901.3 353.2L902.2 354.4L903.3 355.4L904.5 356.3L905.8 357.2L907.0 358.1L908.2 359.1L909.4 360.0L910.5 361.0L911.5 362.1L912.5 363.2L913.5 364.3L914.5 365.5L915.5 366.7L916.4 367.8L917.4 369.0L918.4 370.1L919.4 371.3L920.3 372.4L921.3 373.6L922.3 374.7L923.3 375.8L924.3 377.0L925.3 378.1L926.3 379.2L927.3 380.4L928.3 381.5L929.2 382.6L930.2 383.8L931.2 384.9L932.2 386.0L933.2 387.1L934.2 388.2L935.3 389.3L936.3 390.4L937.4 391.4L938.5 392.5L939.6 393.5L940.7 394.5L941.8 395.5L942.9 396.5L944.1 397.5L945.3 398.4L946.4 399.4L947.6 400.3L948.8 401.2L950.1 402.1L951.3 402.9L952.5 403.8L953.8 404.7L955.0 405.5L956.3 406.3L957.6 407.1L958.9 407.9L960.2 408.7L961.5 409.4L962.8 410.2L964.1 410.9L965.5 411.6L966.8 412.3L968.2 413.0L969.5 413.6L970.9 414.3L972.3 414.9L973.7 415.5L975.1 416.1L976.4 416.7L977.8 417.3L979.2 417.8L980.7 418.4L982.1 418.9L983.5 419.4L984.9 419.9L986.3 420.4L987.8 420.8L989.2 421.3L990.6 421.7L992.1 422.1L993.5 422.5L994.9 422.9L996.4 423.3L997.8 423.6L999.3 424.0L1000.7 424.3L1002.2 424.7L1003.7 425.0L1005.1 425.3L1006.6 425.6L1008.1 425.8L1009.5 426.1L1011.0 426.4L1012.5 426.6L1014.0 426.9L1015.5 427.1L1016.9 427.3L1018.4 427.5L1019.9 427.7L1021.4 427.9L1022.9 428.1L1024.4 428.3L1025.9 428.5L1027.4 428.7L1028.9 428.8L1030.4 429.0L1031.9 429.1L1033.4 429.3L1034.9 429.4L1036.4 429.5L1037.9 429.7L1039.4 429.8L1040.9 429.9L1042.4 430.0L1043.9 430.1L1045.5 430.2L1047.0 430.4L1048.5 430.5L1050.0 430.6L1051.5 430.7L1053.0 430.8L1054.5 430.8L1056.0 430.9" stroke="#808000" stroke-width="3.1"/>
<path class="d" d="M898.1 293.3L898.6 294.7L899.1 296.1L899.6 297.4L900.1 298.8L900.6 300.2L901.1 301.6L901.6 303.0L902.2 304.4L902.7 305.8L903.2 307.2L903.8 308.6L904.3 310.0L904.9 311.4L905.5 312.8L906.0 314.2L906.6 315.6L907.2 317.0L907.8 318.4L908.4 319.8L909.0 321.2L909.6 322.6L910.3 323.9L910.9 325.3L911.5 326.7L912.2 328.1L912.8 329.5L913.5 330.8L914.2 332.2L914.9 333.6L915.5 334.9L916.2 336.3L916.9 337.6L917.6 339.0L918.4 340.3L919.1 341.7L919.8 343.0L920.6 344.3L921.3 345.7L922.1 347.0L922.8 348.3L923.6 349.6L924.4 350.9L925.2 352.2L926.0 353.5L926.8 354.8L927.6 356.1L928.5 357.3L929.3 358.6L930.1 359.9L931.0 361.1L931.9 362.4L932.7 363.6L933.6 364.8L934.5 366.1L935.4 367.3L936.3 368.5L937.2 369.7L938.2 370.9L939.1 372.0L940.1 373.2L941.0 374.4L942.0 375.5L943.0 376.7L944.0 377.8L945.0 378.9L946.0 380.0L947.0 381.1L948.0 382.2L949.1 383.3L950.1 384.4L951.2 385.4L952.3 386.5L953.3 387.5L954.4 388.5L955.5 389.5L956.7 390.5L957.8 391.5L958.9 392.5L960.1 393.5L961.2 394.4L962.4 395.3L963.6 396.3L964.8 397.2L966.0 398.1L967.2 399.0L968.4 399.9L969.6 400.7L970.9 401.6L972.1 402.4L973.4 403.2L974.6 404.1L975.9 404.9L977.2 405.6L978.5 406.4L979.8 407.2L981.1 407.9L982.4 408.7L983.7 409.4L985.0 410.1L986.4 410.8L987.7 411.5L989.1 412.2L990.4 412.9L991.8 413.5L993.1 414.2L994.5 414.8L995.9 415.4L997.3 416.0L998.7 416.6L1000.1 417.2L1001.5 417.8L1002.9 418.3L1004.3 418.8L1005.8 419.4L1007.2 419.9L1008.6 420.4L1010.1 420.9L1011.5 421.4L1012.9 421.8L1014.4 422.3L1015.9 422.7L1017.3 423.2L1018.8 423.6L1020.2 424.0L1021.7 424.4L1023.2 424.7L1024.7 425.1L1026.2 425.5L1027.6 425.8L1029.1 426.1L1030.6 426.4L1032.1 426.7L1033.6 427.0L1035.1 427.3L1036.6 427.6L1038.1 427.8L1039.6 428.1L1041.1 428.3L1042.6 428.5L1044.1 428.7L1045.7 428.9L1047.2 429.1L1048.7 429.2L1050.2 429.4L1051.7 429.5L1053.2 429.6L1054.7 429.7L1056.3 429.8" stroke="#ff0000" stroke-width="2.5" stroke-dasharray="0.4 5.8999999999999995" stroke-dashoffset="0"/>
<path class="c" d="M649.9 24.6L659.7 25.1L664.8 24.2L671.3 25.8L675.5 24.6L682.9 27.4L685.9 24.9L690.3 29.0L694.5 29.7L697.3 27.9L703.8 32.8L709.6 32.1L717.7 35.5L721.7 33.7L727.0 38.3L735.1 38.3L741.0 41.4L744.6 41.8L751.6 45.5L757.4 47.2L763.2 50.6L767.9 53.4L771.4 54.6L777.2 59.9L784.1 66.4L791.1 72.7L798.1 81.3L805.0 90.1L812.0 99.4L819.0 113.3L823.6 122.6L828.2 130.5L835.2 145.5L842.2 159.5L849.2 173.4L856.1 189.7L863.1 205.9L870.0 223.3L876.3 240.0L879.3 246.3L888.6 267.2L899.3 288.1L908.6 305.5L913.2 322.9L919.0 346.1L921.8 359.0" stroke="#ff0000" stroke-width="3.1"/>
<path class="c" d="M600.5 400.8L605.1 400.8L608.6 403.2L613.2 408.5L619.0 414.3L624.8 419.0L630.6 422.5L636.4 424.8L648.1 427.8L659.7 429.4L671.3 430.3L682.9 431.1L694.5 431.9L706.1 432.6L729.3 433.5L750.0 433.6L780.0 433.6L820.0 433.6L860.0 433.6L900.0 433.6L923.0 433.7L925.0 434.2L951.5 434.3" stroke="#000000" stroke-width="3.1"/>
</g>
<g>
<path d="M88.5 19.0H520.0V434.5" fill="none" stroke="#000" stroke-width="1.0"/>
<path d="M174.80 19.0v6M261.10 19.0v6M347.40 19.0v6M433.70 19.0v6M520.0 102.10h-6M520.0 185.20h-6M520.0 268.30h-6M520.0 351.40h-6" fill="none" stroke="#000" stroke-width="1.0"/>
<path d="M131.65 19.0v3M217.95 19.0v3M304.25 19.0v3M390.55 19.0v3M476.85 19.0v3M520.0 60.55h-3M520.0 143.65h-3M520.0 226.75h-3M520.0 309.85h-3M520.0 392.95h-3" fill="none" stroke="#000" stroke-width="1.0"/>
<path d="M600.5 19.0H1056.0V434.5" fill="none" stroke="#000" stroke-width="1.0"/>
<path d="M691.60 19.0v6M782.70 19.0v6M873.80 19.0v6M964.90 19.0v6M1056.0 102.10h-6M1056.0 185.20h-6M1056.0 268.30h-6M1056.0 351.40h-6" fill="none" stroke="#000" stroke-width="1.0"/>
<path d="M646.05 19.0v3M737.15 19.0v3M828.25 19.0v3M919.35 19.0v3M1010.45 19.0v3M1056.0 60.55h-3M1056.0 143.65h-3M1056.0 226.75h-3M1056.0 309.85h-3M1056.0 392.95h-3" fill="none" stroke="#000" stroke-width="1.0"/>
</g>
<path d="M88.5 18.5V434.5H520.5" fill="none" stroke="#000" stroke-width="1.0"/>
<path d="M88.50 434.5v6M174.80 434.5v6M261.10 434.5v6M347.40 434.5v6M433.70 434.5v6M520.00 434.5v6M88.5 403.72h-6M88.5 342.17h-6M88.5 280.61h-6M88.5 219.06h-6M88.5 157.50h-6M88.5 95.94h-6M88.5 34.39h-6" fill="none" stroke="#000" stroke-width="1.0"/>
<path d="M131.65 434.5v3M217.95 434.5v3M304.25 434.5v3M390.55 434.5v3M476.85 434.5v3M88.5 434.50h-3M88.5 372.94h-3M88.5 311.39h-3M88.5 249.83h-3M88.5 188.28h-3M88.5 126.72h-3M88.5 65.17h-3" fill="none" stroke="#000" stroke-width="1.0"/>
<path d="M600.5 18.5V434.5H1056.5" fill="none" stroke="#000" stroke-width="1.0"/>
<path d="M600.50 434.5v6M714.38 434.5v6M828.25 434.5v6M942.12 434.5v6M1056.00 434.5v6M600.5 434.50h-6M600.5 365.25h-6M600.5 296.00h-6M600.5 226.75h-6M600.5 157.50h-6M600.5 88.25h-6M600.5 19.00h-6" fill="none" stroke="#000" stroke-width="1.0"/>
<path d="M657.44 434.5v3M771.31 434.5v3M885.19 434.5v3M999.06 434.5v3M600.5 399.88h-3M600.5 330.62h-3M600.5 261.38h-3M600.5 192.12h-3M600.5 122.88h-3M600.5 53.62h-3" fill="none" stroke="#000" stroke-width="1.0"/>
<g clip-path="url(#cb)">
<path class="d" d="M973.3 432.9C974.3 433.0 977.3 433.2 979.4 433.3C981.5 433.4 982.6 433.5 986.0 433.6C989.4 433.7 992.7 433.9 1000.0 434.0C1007.3 434.1 1020.7 434.2 1030.0 434.3C1039.3 434.4 1051.7 434.4 1056.0 434.4" stroke="#00ff00" stroke-width="2.2" stroke-dasharray="0.4 5.699999999999999" stroke-dashoffset="3"/>
<path d="M895.5 434.5C922.2 434.5 1029.2 434.5 1056.0 434.5" fill="none" stroke="#808000" stroke-width="1.5" stroke-dasharray="3.1 3.3"/>
</g>
<path d="M594.5 19.0H602.5" fill="none" stroke="#000" stroke-width="1.0"/>
<text class="lb" transform="translate(366.6 240.0)"><tspan font-size="13.8" letter-spacing="0.37" stroke-width="0.8">HfO<tspan dy="3.6" font-size="9.6" stroke-width="0.5">2</tspan><tspan dy="-3.6">=1524 Cycles</tspan></tspan></text>
<text class="lb" transform="translate(365.5 265.8)"><tspan font-size="14.0" letter-spacing="0.3" stroke-width="0.7">SiO<tspan dy="3.4">2</tspan><tspan dy="-3.4">:HfO</tspan><tspan dy="3.4">2</tspan><tspan dy="-3.4">=[4:16]*87</tspan></tspan></text>
<text class="lb" transform="translate(365.5 286.5)"><tspan font-size="14.0" letter-spacing="0.3" stroke-width="0.7">SiO<tspan dy="3.4">2</tspan><tspan dy="-3.4">:HfO</tspan><tspan dy="3.4">2</tspan><tspan dy="-3.4">=[4:8]*160</tspan></tspan></text>
<text class="lb" transform="translate(364.3 309.3)"><tspan font-size="14.0" letter-spacing="0.3" stroke-width="0.7">SiO<tspan dy="3.4">2</tspan><tspan dy="-3.4">:HfO</tspan><tspan dy="3.4">2</tspan><tspan dy="-3.4">=[4:4]*315</tspan></tspan></text>
<text class="lb" transform="translate(367.3 336.6)"><tspan font-size="14.0" letter-spacing="0.3" stroke-width="0.7">SiO<tspan dy="3.4">2</tspan><tspan dy="-3.4">:HfO</tspan><tspan dy="3.4">2</tspan><tspan dy="-3.4">=[4:2]*465</tspan></tspan></text>
<text class="lb" transform="translate(366.3 405.2)"><tspan font-size="13.8" letter-spacing="0.37" stroke-width="0.8">SiO<tspan dy="3.6" font-size="9.6" stroke-width="0.5">2</tspan><tspan dy="-3.6">=3016 Cycles</tspan></tspan></text>
<text class="lb" transform="translate(784.6 48.6) rotate(45)"><tspan font-size="13.2" letter-spacing="0.75" stroke-width="0.55">HfO<tspan dy="3.4" font-size="8.6" stroke-width="0.5" letter-spacing="1.6">2</tspan><tspan dy="-3.4">=1524 Cycles</tspan></tspan></text>
<text class="lb" transform="translate(745.0 114.0) rotate(45)"><tspan font-size="13.7" letter-spacing="0.5" stroke-width="0.5">SiO<tspan dy="3.4">2</tspan><tspan dy="-3.4">:HfO</tspan><tspan dy="3.4">2</tspan><tspan dy="-3.4">=[4:16]*87</tspan></tspan></text>
<text class="lb" transform="translate(725.5 137.0) rotate(45)"><tspan font-size="13.7" letter-spacing="0.5" stroke-width="0.5">SiO<tspan dy="3.4">2</tspan><tspan dy="-3.4">:HfO</tspan><tspan dy="3.4">2</tspan><tspan dy="-3.4">=[4:8]*160</tspan></tspan></text>
<text class="lb" transform="translate(713.0 159.5) rotate(45)"><tspan font-size="13.7" letter-spacing="0.5" stroke-width="0.5">SiO<tspan dy="3.4">2</tspan><tspan dy="-3.4">:HfO</tspan><tspan dy="3.4">2</tspan><tspan dy="-3.4">=[4:4]*315</tspan></tspan></text>
<text class="lb" transform="translate(698.0 197.0) rotate(45)"><tspan font-size="13.7" letter-spacing="0.5" stroke-width="0.5">SiO<tspan dy="3.4">2</tspan><tspan dy="-3.4">:HfO</tspan><tspan dy="3.4">2</tspan><tspan dy="-3.4">=[4:2]*465</tspan></tspan></text>
<text class="lb" transform="translate(685.0 423.6)"><tspan font-size="13.8" letter-spacing="0.37" stroke-width="0.8">SiO<tspan dy="3.6" font-size="9.6" stroke-width="0.5">2</tspan><tspan dy="-3.6">=3016 Cycles</tspan></tspan></text>
<text class="tk" transform="translate(89.0 461.8)" text-anchor="middle">125</text>
<text class="tk" transform="translate(175.3 461.8)" text-anchor="middle">225</text>
<text class="tk" transform="translate(261.6 461.8)" text-anchor="middle">325</text>
<text class="tk" transform="translate(347.9 461.8)" text-anchor="middle">425</text>
<text class="tk" transform="translate(434.2 461.8)" text-anchor="middle">525</text>
<text class="tk" transform="translate(520.5 461.8)" text-anchor="middle">625</text>
<text class="tk" transform="translate(77.5 409.1)" text-anchor="end">1.5</text>
<text class="tk" transform="translate(77.5 347.6)" text-anchor="end">1.7</text>
<text class="tk" transform="translate(77.5 286.0)" text-anchor="end">1.9</text>
<text class="tk" transform="translate(77.5 224.5)" text-anchor="end">2.1</text>
<text class="tk" transform="translate(77.5 162.9)" text-anchor="end">2.3</text>
<text class="tk" transform="translate(77.5 101.3)" text-anchor="end">2.5</text>
<text class="tk" transform="translate(77.5 39.8)" text-anchor="end">2.7</text>
<text class="tk" transform="translate(602.3 462.3)" text-anchor="middle">125</text>
<text class="tk" transform="translate(716.2 462.3)" text-anchor="middle">150</text>
<text class="tk" transform="translate(830.0 462.3)" text-anchor="middle">175</text>
<text class="tk" transform="translate(943.9 462.3)" text-anchor="middle">200</text>
<text class="tk" transform="translate(1057.8 462.3)" text-anchor="middle">225</text>
<text class="tk" transform="translate(590.6 439.9)" text-anchor="end">0.0</text>
<text class="tk" transform="translate(590.6 370.6)" text-anchor="end">0.2</text>
<text class="tk" transform="translate(590.6 301.4)" text-anchor="end">0.4</text>
<text class="tk" transform="translate(590.6 232.2)" text-anchor="end">0.6</text>
<text class="tk" transform="translate(590.6 162.9)" text-anchor="end">0.8</text>
<text class="tk" transform="translate(590.6 93.7)" text-anchor="end">1.0</text>
<text class="tk" transform="translate(590.6 24.4)" text-anchor="end">1.2</text>
<text class="ttl" transform="translate(304.3 496.7)" text-anchor="middle">Wavelength [nm]</text>
<text class="ttl" transform="translate(829.7 499.0)" text-anchor="middle"><tspan letter-spacing="0.33">Wavelength [nm]</tspan></text>
<text class="ttl" transform="translate(32.0 219.0) rotate(-90)" text-anchor="middle"><tspan letter-spacing="0.1">Refractive index</tspan></text>
<text class="ttl" transform="translate(545.8 224.0) rotate(-90)" text-anchor="middle"><tspan letter-spacing="0.8">Extinction coefficient</tspan></text>
<text class="pl" transform="translate(13.8 22.3) scale(0.93 1)">(a)</text>
<text class="pl" transform="translate(530.8 22.3) scale(0.93 1)">(b)</text>
</svg></body></html>
